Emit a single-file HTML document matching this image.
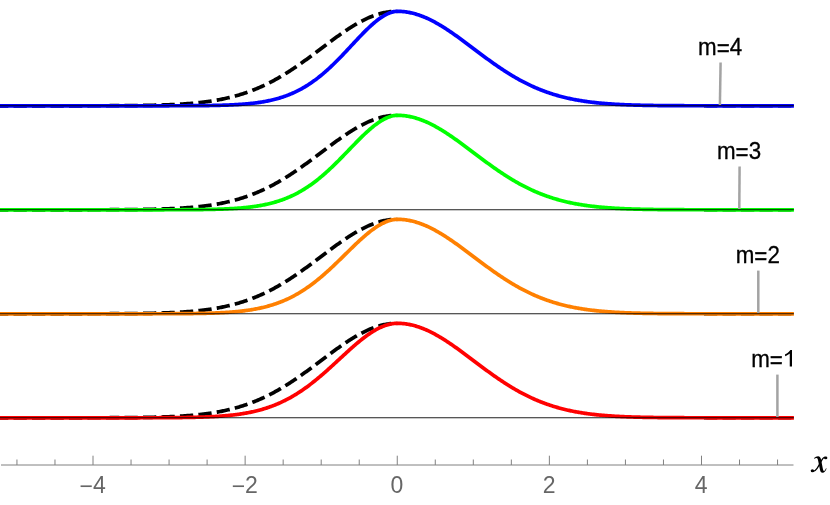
<!DOCTYPE html>
<html><head><meta charset="utf-8"><title>plot</title>
<style>html,body{margin:0;padding:0;background:#fff;}body{width:830px;height:505px;position:relative;overflow:hidden;font-family:"Liberation Sans",sans-serif;}</style>
</head><body>
<svg width="830" height="505" viewBox="0 0 830 505" style="position:absolute;left:0;top:0;will-change:transform;opacity:0.999">
<rect width="830" height="505" fill="#fff"/>
<path d="M0.00 105.80 L1.00 105.80 L2.00 105.80 L3.00 105.80 L4.00 105.80 L5.00 105.80 L6.00 105.80 L7.00 105.80 L8.01 105.80 L9.01 105.80 L10.01 105.80 L11.01 105.80 L12.01 105.80 L13.01 105.80 L14.01 105.80 L15.01 105.80 L16.01 105.80 L17.01 105.80 L18.01 105.80 L19.01 105.80 L20.01 105.80 L21.01 105.80 L22.01 105.80 L23.01 105.80 L24.02 105.80 L25.02 105.80 L26.02 105.80 L27.02 105.80 L28.02 105.80 L29.02 105.80 L30.02 105.80 L31.02 105.80 L32.02 105.80 L33.02 105.80 L34.02 105.80 L35.02 105.80 L36.02 105.80 L37.02 105.80 L38.02 105.80 L39.02 105.80 L40.03 105.80 L41.03 105.80 L42.03 105.80 L43.03 105.80 L44.03 105.80 L45.03 105.80 L46.03 105.80 L47.03 105.80 L48.03 105.80 L49.03 105.80 L50.03 105.80 L51.03 105.80 L52.03 105.80 L53.03 105.80 L54.03 105.80 L55.03 105.80 L56.04 105.80 L57.04 105.80 L58.04 105.80 L59.04 105.80 L60.04 105.79 L61.04 105.79 L62.04 105.79 L63.04 105.79 L64.04 105.79 L65.04 105.79 L66.04 105.79 L67.04 105.79 L68.04 105.79 L69.04 105.79 L70.04 105.79 L71.04 105.79 L72.05 105.79 L73.05 105.79 L74.05 105.79 L75.05 105.79 L76.05 105.79 L77.05 105.79 L78.05 105.79 L79.05 105.79 L80.05 105.78 L81.05 105.78 L82.05 105.78 L83.05 105.78 L84.05 105.78 L85.05 105.78 L86.05 105.78 L87.05 105.78 L88.06 105.78 L89.06 105.77 L90.06 105.77 L91.06 105.77 L92.06 105.77 L93.06 105.77 L94.06 105.77 L95.06 105.76 L96.06 105.76 L97.06 105.76 L98.06 105.76 L99.06 105.76 L100.06 105.75 L101.06 105.75 L102.06 105.75 L103.06 105.75 L104.07 105.74 L105.07 105.74 L106.07 105.74 L107.07 105.73 L108.07 105.73 L109.07 105.73 L110.07 105.72 L111.07 105.72 L112.07 105.72 L113.07 105.71 L114.07 105.71 L115.07 105.70 L116.07 105.70 L117.07 105.69 L118.07 105.69 L119.07 105.68 L120.08 105.68 L121.08 105.67 L122.08 105.66 L123.08 105.66 L124.08 105.65 L125.08 105.64 L126.08 105.64 L127.08 105.63 L128.08 105.62 L129.08 105.61 L130.08 105.60 L131.08 105.59 L132.08 105.58 L133.08 105.57 L134.08 105.56 L135.09 105.55 L136.09 105.54 L137.09 105.53 L138.09 105.52 L139.09 105.50 L140.09 105.49 L141.09 105.47 L142.09 105.46 L143.09 105.44 L144.09 105.43 L145.09 105.41 L146.09 105.39 L147.09 105.38 L148.09 105.36 L149.09 105.34 L150.09 105.32 L151.10 105.30 L152.10 105.28 L153.10 105.25 L154.10 105.23 L155.10 105.21 L156.10 105.18 L157.10 105.15 L158.10 105.13 L159.10 105.10 L160.10 105.07 L161.10 105.04 L162.10 105.01 L163.10 104.97 L164.10 104.94 L165.10 104.90 L166.10 104.87 L167.11 104.83 L168.11 104.79 L169.11 104.75 L170.11 104.71 L171.11 104.66 L172.11 104.62 L173.11 104.57 L174.11 104.52 L175.11 104.47 L176.11 104.42 L177.11 104.37 L178.11 104.31 L179.11 104.25 L180.11 104.19 L181.11 104.13 L182.11 104.07 L183.12 104.00 L184.12 103.94 L185.12 103.87 L186.12 103.79 L187.12 103.72 L188.12 103.64 L189.12 103.56 L190.12 103.48 L191.12 103.40 L192.12 103.31 L193.12 103.22 L194.12 103.13 L195.12 103.03 L196.12 102.94 L197.12 102.83 L198.12 102.73 L199.13 102.62 L200.13 102.51 L201.13 102.40 L202.13 102.28 L203.13 102.16 L204.13 102.04 L205.13 101.91 L206.13 101.78 L207.13 101.64 L208.13 101.51 L209.13 101.36 L210.13 101.22 L211.13 101.07 L212.13 100.91 L213.13 100.75 L214.13 100.59 L215.14 100.42 L216.14 100.25 L217.14 100.08 L218.14 99.89 L219.14 99.71 L220.14 99.52 L221.14 99.32 L222.14 99.12 L223.14 98.92 L224.14 98.71 L225.14 98.50 L226.14 98.28 L227.14 98.05 L228.14 97.82 L229.14 97.58 L230.14 97.34 L231.15 97.09 L232.15 96.84 L233.15 96.58 L234.15 96.32 L235.15 96.05 L236.15 95.77 L237.15 95.49 L238.15 95.20 L239.15 94.91 L240.15 94.60 L241.15 94.30 L242.15 93.98 L243.15 93.66 L244.15 93.34 L245.15 93.00 L246.15 92.66 L247.16 92.32 L248.16 91.96 L249.16 91.60 L250.16 91.24 L251.16 90.86 L252.16 90.48 L253.16 90.09 L254.16 89.70 L255.16 89.30 L256.16 88.89 L257.16 88.47 L258.16 88.05 L259.16 87.62 L260.16 87.18 L261.16 86.73 L262.16 86.28 L263.17 85.82 L264.17 85.35 L265.17 84.88 L266.17 84.40 L267.17 83.91 L268.17 83.41 L269.17 82.91 L270.17 82.40 L271.17 81.88 L272.17 81.35 L273.17 80.82 L274.17 80.28 L275.17 79.74 L276.17 79.18 L277.17 78.62 L278.18 78.05 L279.18 77.48 L280.18 76.90 L281.18 76.31 L282.18 75.71 L283.18 75.11 L284.18 74.50 L285.18 73.89 L286.18 73.26 L287.18 72.63 L288.18 72.00 L289.18 71.36 L290.18 70.71 L291.18 70.06 L292.18 69.40 L293.18 68.74 L294.19 68.07 L295.19 67.39 L296.19 66.71 L297.19 66.03 L298.19 65.33 L299.19 64.64 L300.19 63.94 L301.19 63.23 L302.19 62.52 L303.19 61.81 L304.19 61.09 L305.19 60.37 L306.19 59.65 L307.19 58.92 L308.19 58.19 L309.19 57.45 L310.20 56.71 L311.20 55.97 L312.20 55.23 L313.20 54.48 L314.20 53.74 L315.20 52.99 L316.20 52.24 L317.20 51.49 L318.20 50.73 L319.20 49.98 L320.20 49.23 L321.20 48.47 L322.20 47.72 L323.20 46.97 L324.20 46.21 L325.20 45.46 L326.21 44.71 L327.21 43.96 L328.21 43.21 L329.21 42.46 L330.21 41.72 L331.21 40.98 L332.21 40.24 L333.21 39.50 L334.21 38.77 L335.21 38.04 L336.21 37.32 L337.21 36.60 L338.21 35.88 L339.21 35.17 L340.21 34.46 L341.21 33.76 L342.22 33.06 L343.22 32.38 L344.22 31.69 L345.22 31.02 L346.22 30.35 L347.22 29.68 L348.22 29.03 L349.22 28.38 L350.22 27.74 L351.22 27.11 L352.22 26.49 L353.22 25.88 L354.22 25.27 L355.22 24.68 L356.22 24.09 L357.22 23.52 L358.23 22.95 L359.23 22.40 L360.23 21.86 L361.23 21.33 L362.23 20.81 L363.23 20.30 L364.23 19.80 L365.23 19.31 L366.23 18.84 L367.23 18.38 L368.23 17.93 L369.23 17.50 L370.23 17.08 L371.23 16.67 L372.23 16.28 L373.23 15.89 L374.24 15.53 L375.24 15.18 L376.24 14.84 L377.24 14.52 L378.24 14.21 L379.24 13.91 L380.24 13.63 L381.24 13.37 L382.24 13.12 L383.24 12.89 L384.24 12.67 L385.24 12.47 L386.24 12.28 L387.24 12.11 L388.24 11.96 L389.24 11.82 L390.25 11.70 L391.25 11.59 L392.25 11.50 L393.25 11.43 L394.25 11.37 L395.25 11.33 L396.25 11.31 L397.25 11.30" fill="none" stroke="#000" stroke-width="3.70" stroke-dasharray="13.3 5.2" stroke-dashoffset="5"/>
<path d="M700.00 105.77 L701.00 105.77 L702.00 105.77 L703.00 105.77 L704.00 105.77 L704.99 105.77 L705.99 105.78 L706.99 105.78 L707.99 105.78 L708.99 105.78 L709.99 105.78 L710.99 105.78 L711.99 105.78 L712.99 105.78 L713.99 105.78 L714.98 105.78 L715.98 105.79 L716.98 105.79 L717.98 105.79 L718.98 105.79 L719.98 105.79 L720.98 105.79 L721.98 105.79 L722.98 105.79 L723.97 105.79 L724.97 105.79 L725.97 105.79 L726.97 105.79 L727.97 105.79 L728.97 105.79 L729.97 105.79 L730.97 105.79 L731.97 105.79 L732.96 105.79 L733.96 105.79 L734.96 105.80 L735.96 105.80 L736.96 105.80 L737.96 105.80 L738.96 105.80 L739.96 105.80 L740.96 105.80 L741.96 105.80 L742.95 105.80 L743.95 105.80 L744.95 105.80 L745.95 105.80 L746.95 105.80 L747.95 105.80 L748.95 105.80 L749.95 105.80 L750.95 105.80 L751.94 105.80 L752.94 105.80 L753.94 105.80 L754.94 105.80 L755.94 105.80 L756.94 105.80 L757.94 105.80 L758.94 105.80 L759.94 105.80 L760.94 105.80 L761.93 105.80 L762.93 105.80 L763.93 105.80 L764.93 105.80 L765.93 105.80 L766.93 105.80 L767.93 105.80 L768.93 105.80 L769.93 105.80 L770.92 105.80 L771.92 105.80 L772.92 105.80 L773.92 105.80 L774.92 105.80 L775.92 105.80 L776.92 105.80 L777.92 105.80 L778.92 105.80 L779.91 105.80 L780.91 105.80 L781.91 105.80 L782.91 105.80 L783.91 105.80 L784.91 105.80 L785.91 105.80 L786.91 105.80 L787.91 105.80 L788.91 105.80 L789.90 105.80 L790.90 105.80 L791.90 105.80 L792.90 105.80 L793.90 105.80" fill="none" stroke="#000" stroke-width="3.50" stroke-dasharray="13.3 5.2" stroke-dashoffset="14.5"/>
<path d="M0.00 105.80 L1.00 105.80 L2.00 105.80 L3.00 105.80 L4.00 105.80 L5.00 105.80 L6.00 105.80 L7.00 105.80 L8.00 105.80 L9.00 105.80 L10.00 105.80 L11.00 105.80 L12.00 105.80 L13.00 105.80 L14.00 105.80 L15.00 105.80 L16.00 105.80 L17.00 105.80 L18.00 105.80 L19.00 105.80 L20.00 105.80 L21.00 105.80 L22.00 105.80 L23.00 105.80 L24.00 105.80 L25.00 105.80 L26.00 105.80 L27.00 105.80 L28.00 105.80 L29.00 105.80 L30.00 105.80 L31.00 105.80 L32.00 105.80 L33.00 105.80 L34.00 105.80 L35.00 105.80 L36.00 105.80 L37.00 105.80 L38.00 105.80 L39.00 105.80 L39.99 105.80 L40.99 105.80 L41.99 105.80 L42.99 105.80 L43.99 105.80 L44.99 105.80 L45.99 105.80 L46.99 105.80 L47.99 105.80 L48.99 105.80 L49.99 105.80 L50.99 105.80 L51.99 105.80 L52.99 105.80 L53.99 105.80 L54.99 105.80 L55.99 105.80 L56.99 105.80 L57.99 105.80 L58.99 105.80 L59.99 105.80 L60.99 105.80 L61.99 105.80 L62.99 105.80 L63.99 105.80 L64.99 105.80 L65.99 105.80 L66.99 105.80 L67.99 105.80 L68.99 105.80 L69.99 105.80 L70.99 105.80 L71.99 105.80 L72.99 105.80 L73.99 105.80 L74.99 105.80 L75.99 105.80 L76.99 105.80 L77.99 105.80 L78.99 105.80 L79.99 105.80 L80.99 105.80 L81.99 105.80 L82.99 105.80 L83.99 105.80 L84.99 105.80 L85.99 105.80 L86.99 105.80 L87.99 105.80 L88.99 105.80 L89.99 105.80 L90.99 105.80 L91.99 105.80 L92.99 105.80 L93.99 105.80 L94.99 105.80 L95.99 105.80 L96.99 105.80 L97.99 105.80 L98.99 105.80 L99.99 105.80 L100.99 105.80 L101.99 105.80 L102.99 105.80 L103.99 105.80 L104.99 105.80 L105.99 105.80 L106.99 105.80 L107.99 105.80 L108.99 105.80 L109.99 105.80 L110.99 105.80 L111.99 105.80 L112.99 105.80 L113.99 105.80 L114.99 105.80 L115.99 105.80 L116.99 105.80 L117.99 105.80 L118.99 105.80 L119.98 105.80 L120.98 105.80 L121.98 105.80 L122.98 105.80 L123.98 105.80 L124.98 105.80 L125.98 105.80 L126.98 105.80 L127.98 105.80 L128.98 105.80 L129.98 105.80 L130.98 105.80 L131.98 105.80 L132.98 105.80 L133.98 105.80 L134.98 105.80 L135.98 105.80 L136.98 105.80 L137.98 105.80 L138.98 105.80 L139.98 105.80 L140.98 105.80 L141.98 105.80 L142.98 105.80 L143.98 105.80 L144.98 105.80 L145.98 105.80 L146.98 105.79 L147.98 105.79 L148.98 105.79 L149.98 105.79 L150.98 105.79 L151.98 105.79 L152.98 105.79 L153.98 105.79 L154.98 105.79 L155.98 105.79 L156.98 105.79 L157.98 105.79 L158.98 105.79 L159.98 105.79 L160.98 105.79 L161.98 105.79 L162.98 105.78 L163.98 105.78 L164.98 105.78 L165.98 105.78 L166.98 105.78 L167.98 105.78 L168.98 105.78 L169.98 105.77 L170.98 105.77 L171.98 105.77 L172.98 105.77 L173.98 105.77 L174.98 105.76 L175.98 105.76 L176.98 105.76 L177.98 105.76 L178.98 105.75 L179.98 105.75 L180.98 105.75 L181.98 105.75 L182.98 105.74 L183.98 105.74 L184.98 105.73 L185.98 105.73 L186.98 105.73 L187.98 105.72 L188.98 105.72 L189.98 105.71 L190.98 105.70 L191.98 105.70 L192.98 105.69 L193.98 105.69 L194.98 105.68 L195.98 105.67 L196.98 105.66 L197.98 105.65 L198.97 105.65 L199.97 105.64 L200.97 105.63 L201.97 105.62 L202.97 105.61 L203.97 105.59 L204.97 105.58 L205.97 105.57 L206.97 105.56 L207.97 105.54 L208.97 105.53 L209.97 105.51 L210.97 105.49 L211.97 105.48 L212.97 105.46 L213.97 105.44 L214.97 105.42 L215.97 105.40 L216.97 105.37 L217.97 105.35 L218.97 105.33 L219.97 105.30 L220.97 105.27 L221.97 105.24 L222.97 105.21 L223.97 105.18 L224.97 105.15 L225.97 105.11 L226.97 105.08 L227.97 105.04 L228.97 105.00 L229.97 104.95 L230.97 104.91 L231.97 104.86 L232.97 104.82 L233.97 104.77 L234.97 104.71 L235.97 104.66 L236.97 104.60 L237.97 104.54 L238.97 104.47 L239.97 104.41 L240.97 104.34 L241.97 104.27 L242.97 104.19 L243.97 104.11 L244.97 104.03 L245.97 103.95 L246.97 103.86 L247.97 103.76 L248.97 103.67 L249.97 103.57 L250.97 103.46 L251.97 103.35 L252.97 103.24 L253.97 103.12 L254.97 103.00 L255.97 102.87 L256.97 102.73 L257.97 102.60 L258.97 102.45 L259.97 102.30 L260.97 102.15 L261.97 101.99 L262.97 101.82 L263.97 101.65 L264.97 101.47 L265.97 101.28 L266.97 101.09 L267.97 100.89 L268.97 100.68 L269.97 100.46 L270.97 100.24 L271.97 100.01 L272.97 99.77 L273.97 99.53 L274.97 99.27 L275.97 99.01 L276.97 98.74 L277.96 98.46 L278.96 98.17 L279.96 97.87 L280.96 97.56 L281.96 97.24 L282.96 96.91 L283.96 96.58 L284.96 96.23 L285.96 95.87 L286.96 95.50 L287.96 95.12 L288.96 94.73 L289.96 94.32 L290.96 93.91 L291.96 93.48 L292.96 93.04 L293.96 92.59 L294.96 92.13 L295.96 91.66 L296.96 91.17 L297.96 90.67 L298.96 90.16 L299.96 89.63 L300.96 89.09 L301.96 88.54 L302.96 87.98 L303.96 87.40 L304.96 86.81 L305.96 86.20 L306.96 85.58 L307.96 84.95 L308.96 84.30 L309.96 83.64 L310.96 82.97 L311.96 82.28 L312.96 81.58 L313.96 80.86 L314.96 80.13 L315.96 79.39 L316.96 78.63 L317.96 77.86 L318.96 77.07 L319.96 76.27 L320.96 75.46 L321.96 74.64 L322.96 73.80 L323.96 72.95 L324.96 72.08 L325.96 71.20 L326.96 70.31 L327.96 69.41 L328.96 68.50 L329.96 67.57 L330.96 66.63 L331.96 65.68 L332.96 64.72 L333.96 63.75 L334.96 62.77 L335.96 61.78 L336.96 60.78 L337.96 59.78 L338.96 58.76 L339.96 57.74 L340.96 56.70 L341.96 55.66 L342.96 54.62 L343.96 53.57 L344.96 52.51 L345.96 51.45 L346.96 50.39 L347.96 49.32 L348.96 48.25 L349.96 47.18 L350.96 46.10 L351.96 45.03 L352.96 43.96 L353.96 42.88 L354.96 41.81 L355.96 40.75 L356.96 39.68 L357.95 38.62 L358.95 37.57 L359.95 36.52 L360.95 35.48 L361.95 34.44 L362.95 33.42 L363.95 32.40 L364.95 31.40 L365.95 30.41 L366.95 29.43 L367.95 28.46 L368.95 27.51 L369.95 26.57 L370.95 25.65 L371.95 24.75 L372.95 23.87 L373.95 23.01 L374.95 22.17 L375.95 21.35 L376.95 20.55 L377.95 19.78 L378.95 19.03 L379.95 18.31 L380.95 17.62 L381.95 16.95 L382.95 16.32 L383.95 15.72 L384.95 15.14 L385.95 14.61 L386.95 14.10 L387.95 13.64 L388.95 13.20 L389.95 12.81 L390.95 12.46 L391.95 12.15 L392.95 11.88 L393.95 11.66 L394.95 11.49 L395.95 11.37 L396.95 11.30 L397.95 11.30 L398.95 11.32 L399.95 11.36 L400.95 11.41 L401.95 11.48 L402.95 11.56 L403.95 11.67 L404.95 11.78 L405.95 11.92 L406.95 12.07 L407.95 12.23 L408.95 12.41 L409.95 12.61 L410.95 12.82 L411.95 13.05 L412.95 13.29 L413.95 13.55 L414.95 13.82 L415.95 14.11 L416.95 14.42 L417.95 14.73 L418.95 15.07 L419.95 15.42 L420.95 15.78 L421.95 16.15 L422.95 16.54 L423.95 16.95 L424.95 17.36 L425.95 17.79 L426.95 18.23 L427.95 18.69 L428.95 19.16 L429.95 19.64 L430.95 20.13 L431.95 20.64 L432.95 21.15 L433.95 21.68 L434.95 22.22 L435.95 22.77 L436.94 23.33 L437.94 23.90 L438.94 24.48 L439.94 25.07 L440.94 25.67 L441.94 26.28 L442.94 26.90 L443.94 27.53 L444.94 28.17 L445.94 28.81 L446.94 29.46 L447.94 30.12 L448.94 30.79 L449.94 31.46 L450.94 32.14 L451.94 32.83 L452.94 33.52 L453.94 34.22 L454.94 34.92 L455.94 35.63 L456.94 36.35 L457.94 37.07 L458.94 37.79 L459.94 38.52 L460.94 39.25 L461.94 39.98 L462.94 40.72 L463.94 41.46 L464.94 42.20 L465.94 42.95 L466.94 43.69 L467.94 44.44 L468.94 45.19 L469.94 45.95 L470.94 46.70 L471.94 47.45 L472.94 48.20 L473.94 48.96 L474.94 49.71 L475.94 50.46 L476.94 51.22 L477.94 51.97 L478.94 52.72 L479.94 53.47 L480.94 54.21 L481.94 54.96 L482.94 55.70 L483.94 56.44 L484.94 57.18 L485.94 57.92 L486.94 58.65 L487.94 59.38 L488.94 60.10 L489.94 60.83 L490.94 61.54 L491.94 62.26 L492.94 62.97 L493.94 63.68 L494.94 64.38 L495.94 65.07 L496.94 65.77 L497.94 66.45 L498.94 67.14 L499.94 67.81 L500.94 68.48 L501.94 69.15 L502.94 69.81 L503.94 70.47 L504.94 71.11 L505.94 71.76 L506.94 72.39 L507.94 73.02 L508.94 73.65 L509.94 74.26 L510.94 74.88 L511.94 75.48 L512.94 76.08 L513.94 76.67 L514.94 77.25 L515.94 77.83 L516.93 78.40 L517.93 78.96 L518.93 79.52 L519.93 80.07 L520.93 80.61 L521.93 81.15 L522.93 81.67 L523.93 82.19 L524.93 82.71 L525.93 83.21 L526.93 83.71 L527.93 84.20 L528.93 84.69 L529.93 85.16 L530.93 85.63 L531.93 86.10 L532.93 86.55 L533.93 87.00 L534.93 87.44 L535.93 87.87 L536.93 88.30 L537.93 88.72 L538.93 89.13 L539.93 89.53 L540.93 89.93 L541.93 90.32 L542.93 90.71 L543.93 91.08 L544.93 91.45 L545.93 91.81 L546.93 92.17 L547.93 92.52 L548.93 92.86 L549.93 93.20 L550.93 93.53 L551.93 93.85 L552.93 94.17 L553.93 94.48 L554.93 94.78 L555.93 95.08 L556.93 95.37 L557.93 95.65 L558.93 95.93 L559.93 96.20 L560.93 96.47 L561.93 96.73 L562.93 96.99 L563.93 97.24 L564.93 97.48 L565.93 97.72 L566.93 97.95 L567.93 98.18 L568.93 98.40 L569.93 98.62 L570.93 98.83 L571.93 99.04 L572.93 99.24 L573.93 99.44 L574.93 99.63 L575.93 99.81 L576.93 100.00 L577.93 100.18 L578.93 100.35 L579.93 100.52 L580.93 100.68 L581.93 100.84 L582.93 101.00 L583.93 101.15 L584.93 101.30 L585.93 101.44 L586.93 101.58 L587.93 101.72 L588.93 101.85 L589.93 101.98 L590.93 102.11 L591.93 102.23 L592.93 102.35 L593.93 102.46 L594.93 102.57 L595.92 102.68 L596.92 102.79 L597.92 102.89 L598.92 102.99 L599.92 103.09 L600.92 103.18 L601.92 103.27 L602.92 103.36 L603.92 103.44 L604.92 103.53 L605.92 103.61 L606.92 103.69 L607.92 103.76 L608.92 103.83 L609.92 103.90 L610.92 103.97 L611.92 104.04 L612.92 104.10 L613.92 104.17 L614.92 104.23 L615.92 104.28 L616.92 104.34 L617.92 104.40 L618.92 104.45 L619.92 104.50 L620.92 104.55 L621.92 104.60 L622.92 104.64 L623.92 104.69 L624.92 104.73 L625.92 104.77 L626.92 104.81 L627.92 104.85 L628.92 104.89 L629.92 104.92 L630.92 104.96 L631.92 104.99 L632.92 105.02 L633.92 105.05 L634.92 105.08 L635.92 105.11 L636.92 105.14 L637.92 105.17 L638.92 105.19 L639.92 105.22 L640.92 105.24 L641.92 105.26 L642.92 105.29 L643.92 105.31 L644.92 105.33 L645.92 105.35 L646.92 105.37 L647.92 105.39 L648.92 105.40 L649.92 105.42 L650.92 105.44 L651.92 105.45 L652.92 105.47 L653.92 105.48 L654.92 105.50 L655.92 105.51 L656.92 105.52 L657.92 105.53 L658.92 105.55 L659.92 105.56 L660.92 105.57 L661.92 105.58 L662.92 105.59 L663.92 105.60 L664.92 105.61 L665.92 105.62 L666.92 105.62 L667.92 105.63 L668.92 105.64 L669.92 105.65 L670.92 105.65 L671.92 105.66 L672.92 105.67 L673.92 105.67 L674.91 105.68 L675.91 105.69 L676.91 105.69 L677.91 105.70 L678.91 105.70 L679.91 105.71 L680.91 105.71 L681.91 105.71 L682.91 105.72 L683.91 105.72 L684.91 105.73 L685.91 105.73 L686.91 105.73 L687.91 105.74 L688.91 105.74 L689.91 105.74 L690.91 105.75 L691.91 105.75 L692.91 105.75 L693.91 105.75 L694.91 105.76 L695.91 105.76 L696.91 105.76 L697.91 105.76 L698.91 105.76 L699.91 105.77 L700.91 105.77 L701.91 105.77 L702.91 105.77 L703.91 105.77 L704.91 105.77 L705.91 105.77 L706.91 105.78 L707.91 105.78 L708.91 105.78 L709.91 105.78 L710.91 105.78 L711.91 105.78 L712.91 105.78 L713.91 105.78 L714.91 105.78 L715.91 105.79 L716.91 105.79 L717.91 105.79 L718.91 105.79 L719.91 105.79 L720.91 105.79 L721.91 105.79 L722.91 105.79 L723.91 105.79 L724.91 105.79 L725.91 105.79 L726.91 105.79 L727.91 105.79 L728.91 105.79 L729.91 105.79 L730.91 105.79 L731.91 105.79 L732.91 105.79 L733.91 105.79 L734.91 105.80 L735.91 105.80 L736.91 105.80 L737.91 105.80 L738.91 105.80 L739.91 105.80 L740.91 105.80 L741.91 105.80 L742.91 105.80 L743.91 105.80 L744.91 105.80 L745.91 105.80 L746.91 105.80 L747.91 105.80 L748.91 105.80 L749.91 105.80 L750.91 105.80 L751.91 105.80 L752.91 105.80 L753.91 105.80 L754.90 105.80 L755.90 105.80 L756.90 105.80 L757.90 105.80 L758.90 105.80 L759.90 105.80 L760.90 105.80 L761.90 105.80 L762.90 105.80 L763.90 105.80 L764.90 105.80 L765.90 105.80 L766.90 105.80 L767.90 105.80 L768.90 105.80 L769.90 105.80 L770.90 105.80 L771.90 105.80 L772.90 105.80 L773.90 105.80 L774.90 105.80 L775.90 105.80 L776.90 105.80 L777.90 105.80 L778.90 105.80 L779.90 105.80 L780.90 105.80 L781.90 105.80 L782.90 105.80 L783.90 105.80 L784.90 105.80 L785.90 105.80 L786.90 105.80 L787.90 105.80 L788.90 105.80 L789.90 105.80 L790.90 105.80 L791.90 105.80 L792.90 105.80 L793.90 105.80" fill="none" stroke="#0000ff" stroke-width="3.70" stroke-linejoin="round"/>
<path d="M0.00 209.80 L1.00 209.80 L2.00 209.80 L3.00 209.80 L4.00 209.80 L5.00 209.80 L6.00 209.80 L7.00 209.80 L8.01 209.80 L9.01 209.80 L10.01 209.80 L11.01 209.80 L12.01 209.80 L13.01 209.80 L14.01 209.80 L15.01 209.80 L16.01 209.80 L17.01 209.80 L18.01 209.80 L19.01 209.80 L20.01 209.80 L21.01 209.80 L22.01 209.80 L23.01 209.80 L24.02 209.80 L25.02 209.80 L26.02 209.80 L27.02 209.80 L28.02 209.80 L29.02 209.80 L30.02 209.80 L31.02 209.80 L32.02 209.80 L33.02 209.80 L34.02 209.80 L35.02 209.80 L36.02 209.80 L37.02 209.80 L38.02 209.80 L39.02 209.80 L40.03 209.80 L41.03 209.80 L42.03 209.80 L43.03 209.80 L44.03 209.80 L45.03 209.80 L46.03 209.80 L47.03 209.80 L48.03 209.80 L49.03 209.80 L50.03 209.80 L51.03 209.80 L52.03 209.80 L53.03 209.80 L54.03 209.80 L55.03 209.80 L56.04 209.80 L57.04 209.80 L58.04 209.80 L59.04 209.80 L60.04 209.79 L61.04 209.79 L62.04 209.79 L63.04 209.79 L64.04 209.79 L65.04 209.79 L66.04 209.79 L67.04 209.79 L68.04 209.79 L69.04 209.79 L70.04 209.79 L71.04 209.79 L72.05 209.79 L73.05 209.79 L74.05 209.79 L75.05 209.79 L76.05 209.79 L77.05 209.79 L78.05 209.79 L79.05 209.79 L80.05 209.78 L81.05 209.78 L82.05 209.78 L83.05 209.78 L84.05 209.78 L85.05 209.78 L86.05 209.78 L87.05 209.78 L88.06 209.78 L89.06 209.77 L90.06 209.77 L91.06 209.77 L92.06 209.77 L93.06 209.77 L94.06 209.77 L95.06 209.76 L96.06 209.76 L97.06 209.76 L98.06 209.76 L99.06 209.76 L100.06 209.75 L101.06 209.75 L102.06 209.75 L103.06 209.75 L104.07 209.74 L105.07 209.74 L106.07 209.74 L107.07 209.73 L108.07 209.73 L109.07 209.73 L110.07 209.72 L111.07 209.72 L112.07 209.72 L113.07 209.71 L114.07 209.71 L115.07 209.70 L116.07 209.70 L117.07 209.69 L118.07 209.69 L119.07 209.68 L120.08 209.68 L121.08 209.67 L122.08 209.66 L123.08 209.66 L124.08 209.65 L125.08 209.64 L126.08 209.64 L127.08 209.63 L128.08 209.62 L129.08 209.61 L130.08 209.60 L131.08 209.59 L132.08 209.58 L133.08 209.57 L134.08 209.56 L135.09 209.55 L136.09 209.54 L137.09 209.53 L138.09 209.52 L139.09 209.50 L140.09 209.49 L141.09 209.47 L142.09 209.46 L143.09 209.44 L144.09 209.43 L145.09 209.41 L146.09 209.39 L147.09 209.38 L148.09 209.36 L149.09 209.34 L150.09 209.32 L151.10 209.30 L152.10 209.28 L153.10 209.25 L154.10 209.23 L155.10 209.21 L156.10 209.18 L157.10 209.15 L158.10 209.13 L159.10 209.10 L160.10 209.07 L161.10 209.04 L162.10 209.01 L163.10 208.97 L164.10 208.94 L165.10 208.90 L166.10 208.87 L167.11 208.83 L168.11 208.79 L169.11 208.75 L170.11 208.71 L171.11 208.66 L172.11 208.62 L173.11 208.57 L174.11 208.52 L175.11 208.47 L176.11 208.42 L177.11 208.37 L178.11 208.31 L179.11 208.25 L180.11 208.19 L181.11 208.13 L182.11 208.07 L183.12 208.00 L184.12 207.94 L185.12 207.87 L186.12 207.79 L187.12 207.72 L188.12 207.64 L189.12 207.56 L190.12 207.48 L191.12 207.40 L192.12 207.31 L193.12 207.22 L194.12 207.13 L195.12 207.03 L196.12 206.94 L197.12 206.83 L198.12 206.73 L199.13 206.62 L200.13 206.51 L201.13 206.40 L202.13 206.28 L203.13 206.16 L204.13 206.04 L205.13 205.91 L206.13 205.78 L207.13 205.64 L208.13 205.51 L209.13 205.36 L210.13 205.22 L211.13 205.07 L212.13 204.91 L213.13 204.75 L214.13 204.59 L215.14 204.42 L216.14 204.25 L217.14 204.08 L218.14 203.89 L219.14 203.71 L220.14 203.52 L221.14 203.32 L222.14 203.12 L223.14 202.92 L224.14 202.71 L225.14 202.50 L226.14 202.28 L227.14 202.05 L228.14 201.82 L229.14 201.58 L230.14 201.34 L231.15 201.09 L232.15 200.84 L233.15 200.58 L234.15 200.32 L235.15 200.05 L236.15 199.77 L237.15 199.49 L238.15 199.20 L239.15 198.91 L240.15 198.60 L241.15 198.30 L242.15 197.98 L243.15 197.66 L244.15 197.34 L245.15 197.00 L246.15 196.66 L247.16 196.32 L248.16 195.96 L249.16 195.60 L250.16 195.24 L251.16 194.86 L252.16 194.48 L253.16 194.09 L254.16 193.70 L255.16 193.30 L256.16 192.89 L257.16 192.47 L258.16 192.05 L259.16 191.62 L260.16 191.18 L261.16 190.73 L262.16 190.28 L263.17 189.82 L264.17 189.35 L265.17 188.88 L266.17 188.40 L267.17 187.91 L268.17 187.41 L269.17 186.91 L270.17 186.40 L271.17 185.88 L272.17 185.35 L273.17 184.82 L274.17 184.28 L275.17 183.74 L276.17 183.18 L277.17 182.62 L278.18 182.05 L279.18 181.48 L280.18 180.90 L281.18 180.31 L282.18 179.71 L283.18 179.11 L284.18 178.50 L285.18 177.89 L286.18 177.26 L287.18 176.63 L288.18 176.00 L289.18 175.36 L290.18 174.71 L291.18 174.06 L292.18 173.40 L293.18 172.74 L294.19 172.07 L295.19 171.39 L296.19 170.71 L297.19 170.03 L298.19 169.33 L299.19 168.64 L300.19 167.94 L301.19 167.23 L302.19 166.52 L303.19 165.81 L304.19 165.09 L305.19 164.37 L306.19 163.65 L307.19 162.92 L308.19 162.19 L309.19 161.45 L310.20 160.71 L311.20 159.97 L312.20 159.23 L313.20 158.48 L314.20 157.74 L315.20 156.99 L316.20 156.24 L317.20 155.49 L318.20 154.73 L319.20 153.98 L320.20 153.23 L321.20 152.47 L322.20 151.72 L323.20 150.97 L324.20 150.21 L325.20 149.46 L326.21 148.71 L327.21 147.96 L328.21 147.21 L329.21 146.46 L330.21 145.72 L331.21 144.98 L332.21 144.24 L333.21 143.50 L334.21 142.77 L335.21 142.04 L336.21 141.32 L337.21 140.60 L338.21 139.88 L339.21 139.17 L340.21 138.46 L341.21 137.76 L342.22 137.06 L343.22 136.38 L344.22 135.69 L345.22 135.02 L346.22 134.35 L347.22 133.68 L348.22 133.03 L349.22 132.38 L350.22 131.74 L351.22 131.11 L352.22 130.49 L353.22 129.88 L354.22 129.27 L355.22 128.68 L356.22 128.09 L357.22 127.52 L358.23 126.95 L359.23 126.40 L360.23 125.86 L361.23 125.33 L362.23 124.81 L363.23 124.30 L364.23 123.80 L365.23 123.31 L366.23 122.84 L367.23 122.38 L368.23 121.93 L369.23 121.50 L370.23 121.08 L371.23 120.67 L372.23 120.28 L373.23 119.89 L374.24 119.53 L375.24 119.18 L376.24 118.84 L377.24 118.52 L378.24 118.21 L379.24 117.91 L380.24 117.63 L381.24 117.37 L382.24 117.12 L383.24 116.89 L384.24 116.67 L385.24 116.47 L386.24 116.28 L387.24 116.11 L388.24 115.96 L389.24 115.82 L390.25 115.70 L391.25 115.59 L392.25 115.50 L393.25 115.43 L394.25 115.37 L395.25 115.33 L396.25 115.31 L397.25 115.30" fill="none" stroke="#000" stroke-width="3.70" stroke-dasharray="13.3 5.2" stroke-dashoffset="5"/>
<path d="M700.00 209.77 L701.00 209.77 L702.00 209.77 L703.00 209.77 L704.00 209.77 L704.99 209.77 L705.99 209.78 L706.99 209.78 L707.99 209.78 L708.99 209.78 L709.99 209.78 L710.99 209.78 L711.99 209.78 L712.99 209.78 L713.99 209.78 L714.98 209.78 L715.98 209.79 L716.98 209.79 L717.98 209.79 L718.98 209.79 L719.98 209.79 L720.98 209.79 L721.98 209.79 L722.98 209.79 L723.97 209.79 L724.97 209.79 L725.97 209.79 L726.97 209.79 L727.97 209.79 L728.97 209.79 L729.97 209.79 L730.97 209.79 L731.97 209.79 L732.96 209.79 L733.96 209.79 L734.96 209.80 L735.96 209.80 L736.96 209.80 L737.96 209.80 L738.96 209.80 L739.96 209.80 L740.96 209.80 L741.96 209.80 L742.95 209.80 L743.95 209.80 L744.95 209.80 L745.95 209.80 L746.95 209.80 L747.95 209.80 L748.95 209.80 L749.95 209.80 L750.95 209.80 L751.94 209.80 L752.94 209.80 L753.94 209.80 L754.94 209.80 L755.94 209.80 L756.94 209.80 L757.94 209.80 L758.94 209.80 L759.94 209.80 L760.94 209.80 L761.93 209.80 L762.93 209.80 L763.93 209.80 L764.93 209.80 L765.93 209.80 L766.93 209.80 L767.93 209.80 L768.93 209.80 L769.93 209.80 L770.92 209.80 L771.92 209.80 L772.92 209.80 L773.92 209.80 L774.92 209.80 L775.92 209.80 L776.92 209.80 L777.92 209.80 L778.92 209.80 L779.91 209.80 L780.91 209.80 L781.91 209.80 L782.91 209.80 L783.91 209.80 L784.91 209.80 L785.91 209.80 L786.91 209.80 L787.91 209.80 L788.91 209.80 L789.90 209.80 L790.90 209.80 L791.90 209.80 L792.90 209.80 L793.90 209.80" fill="none" stroke="#000" stroke-width="3.50" stroke-dasharray="13.3 5.2" stroke-dashoffset="14.5"/>
<path d="M0.00 209.80 L1.00 209.80 L2.00 209.80 L3.00 209.80 L4.00 209.80 L5.00 209.80 L6.00 209.80 L7.00 209.80 L8.00 209.80 L9.00 209.80 L10.00 209.80 L11.00 209.80 L12.00 209.80 L13.00 209.80 L14.00 209.80 L15.00 209.80 L16.00 209.80 L17.00 209.80 L18.00 209.80 L19.00 209.80 L20.00 209.80 L21.00 209.80 L22.00 209.80 L23.00 209.80 L24.00 209.80 L25.00 209.80 L26.00 209.80 L27.00 209.80 L28.00 209.80 L29.00 209.80 L30.00 209.80 L31.00 209.80 L32.00 209.80 L33.00 209.80 L34.00 209.80 L35.00 209.80 L36.00 209.80 L37.00 209.80 L38.00 209.80 L39.00 209.80 L39.99 209.80 L40.99 209.80 L41.99 209.80 L42.99 209.80 L43.99 209.80 L44.99 209.80 L45.99 209.80 L46.99 209.80 L47.99 209.80 L48.99 209.80 L49.99 209.80 L50.99 209.80 L51.99 209.80 L52.99 209.80 L53.99 209.80 L54.99 209.80 L55.99 209.80 L56.99 209.80 L57.99 209.80 L58.99 209.80 L59.99 209.80 L60.99 209.80 L61.99 209.80 L62.99 209.80 L63.99 209.80 L64.99 209.80 L65.99 209.80 L66.99 209.80 L67.99 209.80 L68.99 209.80 L69.99 209.80 L70.99 209.80 L71.99 209.80 L72.99 209.80 L73.99 209.80 L74.99 209.80 L75.99 209.80 L76.99 209.80 L77.99 209.80 L78.99 209.80 L79.99 209.80 L80.99 209.80 L81.99 209.80 L82.99 209.80 L83.99 209.80 L84.99 209.80 L85.99 209.80 L86.99 209.80 L87.99 209.80 L88.99 209.80 L89.99 209.80 L90.99 209.80 L91.99 209.80 L92.99 209.80 L93.99 209.80 L94.99 209.80 L95.99 209.80 L96.99 209.80 L97.99 209.80 L98.99 209.80 L99.99 209.80 L100.99 209.80 L101.99 209.80 L102.99 209.80 L103.99 209.80 L104.99 209.80 L105.99 209.80 L106.99 209.80 L107.99 209.80 L108.99 209.80 L109.99 209.80 L110.99 209.80 L111.99 209.80 L112.99 209.80 L113.99 209.80 L114.99 209.80 L115.99 209.80 L116.99 209.80 L117.99 209.80 L118.99 209.80 L119.98 209.80 L120.98 209.80 L121.98 209.80 L122.98 209.80 L123.98 209.80 L124.98 209.80 L125.98 209.80 L126.98 209.80 L127.98 209.80 L128.98 209.80 L129.98 209.80 L130.98 209.80 L131.98 209.80 L132.98 209.80 L133.98 209.80 L134.98 209.80 L135.98 209.80 L136.98 209.80 L137.98 209.80 L138.98 209.80 L139.98 209.80 L140.98 209.79 L141.98 209.79 L142.98 209.79 L143.98 209.79 L144.98 209.79 L145.98 209.79 L146.98 209.79 L147.98 209.79 L148.98 209.79 L149.98 209.79 L150.98 209.79 L151.98 209.79 L152.98 209.79 L153.98 209.79 L154.98 209.79 L155.98 209.79 L156.98 209.78 L157.98 209.78 L158.98 209.78 L159.98 209.78 L160.98 209.78 L161.98 209.78 L162.98 209.78 L163.98 209.78 L164.98 209.77 L165.98 209.77 L166.98 209.77 L167.98 209.77 L168.98 209.77 L169.98 209.76 L170.98 209.76 L171.98 209.76 L172.98 209.76 L173.98 209.75 L174.98 209.75 L175.98 209.75 L176.98 209.74 L177.98 209.74 L178.98 209.74 L179.98 209.73 L180.98 209.73 L181.98 209.72 L182.98 209.72 L183.98 209.71 L184.98 209.71 L185.98 209.70 L186.98 209.70 L187.98 209.69 L188.98 209.68 L189.98 209.68 L190.98 209.67 L191.98 209.66 L192.98 209.65 L193.98 209.64 L194.98 209.63 L195.98 209.62 L196.98 209.61 L197.98 209.60 L198.97 209.59 L199.97 209.58 L200.97 209.57 L201.97 209.55 L202.97 209.54 L203.97 209.52 L204.97 209.51 L205.97 209.49 L206.97 209.47 L207.97 209.45 L208.97 209.44 L209.97 209.42 L210.97 209.39 L211.97 209.37 L212.97 209.35 L213.97 209.32 L214.97 209.30 L215.97 209.27 L216.97 209.24 L217.97 209.21 L218.97 209.18 L219.97 209.15 L220.97 209.11 L221.97 209.08 L222.97 209.04 L223.97 209.00 L224.97 208.96 L225.97 208.91 L226.97 208.87 L227.97 208.82 L228.97 208.77 L229.97 208.72 L230.97 208.67 L231.97 208.61 L232.97 208.55 L233.97 208.49 L234.97 208.42 L235.97 208.36 L236.97 208.29 L237.97 208.21 L238.97 208.14 L239.97 208.06 L240.97 207.97 L241.97 207.89 L242.97 207.80 L243.97 207.70 L244.97 207.61 L245.97 207.50 L246.97 207.40 L247.97 207.29 L248.97 207.17 L249.97 207.06 L250.97 206.93 L251.97 206.80 L252.97 206.67 L253.97 206.53 L254.97 206.39 L255.97 206.24 L256.97 206.08 L257.97 205.92 L258.97 205.76 L259.97 205.59 L260.97 205.41 L261.97 205.22 L262.97 205.03 L263.97 204.83 L264.97 204.63 L265.97 204.41 L266.97 204.19 L267.97 203.97 L268.97 203.73 L269.97 203.49 L270.97 203.24 L271.97 202.98 L272.97 202.71 L273.97 202.44 L274.97 202.15 L275.97 201.86 L276.97 201.56 L277.96 201.25 L278.96 200.92 L279.96 200.59 L280.96 200.25 L281.96 199.90 L282.96 199.54 L283.96 199.17 L284.96 198.79 L285.96 198.39 L286.96 197.99 L287.96 197.57 L288.96 197.15 L289.96 196.71 L290.96 196.26 L291.96 195.80 L292.96 195.33 L293.96 194.84 L294.96 194.35 L295.96 193.84 L296.96 193.32 L297.96 192.78 L298.96 192.24 L299.96 191.68 L300.96 191.11 L301.96 190.52 L302.96 189.92 L303.96 189.31 L304.96 188.69 L305.96 188.05 L306.96 187.40 L307.96 186.74 L308.96 186.07 L309.96 185.38 L310.96 184.67 L311.96 183.96 L312.96 183.23 L313.96 182.49 L314.96 181.73 L315.96 180.97 L316.96 180.19 L317.96 179.39 L318.96 178.59 L319.96 177.77 L320.96 176.94 L321.96 176.10 L322.96 175.24 L323.96 174.38 L324.96 173.50 L325.96 172.61 L326.96 171.71 L327.96 170.80 L328.96 169.88 L329.96 168.95 L330.96 168.01 L331.96 167.06 L332.96 166.10 L333.96 165.13 L334.96 164.16 L335.96 163.17 L336.96 162.18 L337.96 161.19 L338.96 160.18 L339.96 159.17 L340.96 158.15 L341.96 157.13 L342.96 156.11 L343.96 155.08 L344.96 154.05 L345.96 153.01 L346.96 151.97 L347.96 150.93 L348.96 149.90 L349.96 148.86 L350.96 147.82 L351.96 146.78 L352.96 145.75 L353.96 144.71 L354.96 143.69 L355.96 142.66 L356.96 141.64 L357.95 140.63 L358.95 139.63 L359.95 138.63 L360.95 137.64 L361.95 136.66 L362.95 135.69 L363.95 134.73 L364.95 133.78 L365.95 132.84 L366.95 131.92 L367.95 131.02 L368.95 130.13 L369.95 129.25 L370.95 128.39 L371.95 127.55 L372.95 126.73 L373.95 125.93 L374.95 125.15 L375.95 124.40 L376.95 123.66 L377.95 122.95 L378.95 122.27 L379.95 121.61 L380.95 120.97 L381.95 120.37 L382.95 119.79 L383.95 119.24 L384.95 118.72 L385.95 118.24 L386.95 117.78 L387.95 117.36 L388.95 116.98 L389.95 116.63 L390.95 116.31 L391.95 116.04 L392.95 115.80 L393.95 115.61 L394.95 115.46 L395.95 115.36 L396.95 115.30 L397.95 115.30 L398.95 115.32 L399.95 115.36 L400.95 115.41 L401.95 115.48 L402.95 115.56 L403.95 115.67 L404.95 115.78 L405.95 115.92 L406.95 116.07 L407.95 116.23 L408.95 116.41 L409.95 116.61 L410.95 116.82 L411.95 117.05 L412.95 117.29 L413.95 117.55 L414.95 117.82 L415.95 118.11 L416.95 118.42 L417.95 118.73 L418.95 119.07 L419.95 119.42 L420.95 119.78 L421.95 120.15 L422.95 120.54 L423.95 120.95 L424.95 121.36 L425.95 121.79 L426.95 122.23 L427.95 122.69 L428.95 123.16 L429.95 123.64 L430.95 124.13 L431.95 124.64 L432.95 125.15 L433.95 125.68 L434.95 126.22 L435.95 126.77 L436.94 127.33 L437.94 127.90 L438.94 128.48 L439.94 129.07 L440.94 129.67 L441.94 130.28 L442.94 130.90 L443.94 131.53 L444.94 132.17 L445.94 132.81 L446.94 133.46 L447.94 134.12 L448.94 134.79 L449.94 135.46 L450.94 136.14 L451.94 136.83 L452.94 137.52 L453.94 138.22 L454.94 138.92 L455.94 139.63 L456.94 140.35 L457.94 141.07 L458.94 141.79 L459.94 142.52 L460.94 143.25 L461.94 143.98 L462.94 144.72 L463.94 145.46 L464.94 146.20 L465.94 146.95 L466.94 147.69 L467.94 148.44 L468.94 149.19 L469.94 149.95 L470.94 150.70 L471.94 151.45 L472.94 152.20 L473.94 152.96 L474.94 153.71 L475.94 154.46 L476.94 155.22 L477.94 155.97 L478.94 156.72 L479.94 157.47 L480.94 158.21 L481.94 158.96 L482.94 159.70 L483.94 160.44 L484.94 161.18 L485.94 161.92 L486.94 162.65 L487.94 163.38 L488.94 164.10 L489.94 164.83 L490.94 165.54 L491.94 166.26 L492.94 166.97 L493.94 167.68 L494.94 168.38 L495.94 169.07 L496.94 169.77 L497.94 170.45 L498.94 171.14 L499.94 171.81 L500.94 172.48 L501.94 173.15 L502.94 173.81 L503.94 174.47 L504.94 175.11 L505.94 175.76 L506.94 176.39 L507.94 177.02 L508.94 177.65 L509.94 178.26 L510.94 178.88 L511.94 179.48 L512.94 180.08 L513.94 180.67 L514.94 181.25 L515.94 181.83 L516.93 182.40 L517.93 182.96 L518.93 183.52 L519.93 184.07 L520.93 184.61 L521.93 185.15 L522.93 185.67 L523.93 186.19 L524.93 186.71 L525.93 187.21 L526.93 187.71 L527.93 188.20 L528.93 188.69 L529.93 189.16 L530.93 189.63 L531.93 190.10 L532.93 190.55 L533.93 191.00 L534.93 191.44 L535.93 191.87 L536.93 192.30 L537.93 192.72 L538.93 193.13 L539.93 193.53 L540.93 193.93 L541.93 194.32 L542.93 194.71 L543.93 195.08 L544.93 195.45 L545.93 195.81 L546.93 196.17 L547.93 196.52 L548.93 196.86 L549.93 197.20 L550.93 197.53 L551.93 197.85 L552.93 198.17 L553.93 198.48 L554.93 198.78 L555.93 199.08 L556.93 199.37 L557.93 199.65 L558.93 199.93 L559.93 200.20 L560.93 200.47 L561.93 200.73 L562.93 200.99 L563.93 201.24 L564.93 201.48 L565.93 201.72 L566.93 201.95 L567.93 202.18 L568.93 202.40 L569.93 202.62 L570.93 202.83 L571.93 203.04 L572.93 203.24 L573.93 203.44 L574.93 203.63 L575.93 203.81 L576.93 204.00 L577.93 204.18 L578.93 204.35 L579.93 204.52 L580.93 204.68 L581.93 204.84 L582.93 205.00 L583.93 205.15 L584.93 205.30 L585.93 205.44 L586.93 205.58 L587.93 205.72 L588.93 205.85 L589.93 205.98 L590.93 206.11 L591.93 206.23 L592.93 206.35 L593.93 206.46 L594.93 206.57 L595.92 206.68 L596.92 206.79 L597.92 206.89 L598.92 206.99 L599.92 207.09 L600.92 207.18 L601.92 207.27 L602.92 207.36 L603.92 207.44 L604.92 207.53 L605.92 207.61 L606.92 207.69 L607.92 207.76 L608.92 207.83 L609.92 207.90 L610.92 207.97 L611.92 208.04 L612.92 208.10 L613.92 208.17 L614.92 208.23 L615.92 208.28 L616.92 208.34 L617.92 208.40 L618.92 208.45 L619.92 208.50 L620.92 208.55 L621.92 208.60 L622.92 208.64 L623.92 208.69 L624.92 208.73 L625.92 208.77 L626.92 208.81 L627.92 208.85 L628.92 208.89 L629.92 208.92 L630.92 208.96 L631.92 208.99 L632.92 209.02 L633.92 209.05 L634.92 209.08 L635.92 209.11 L636.92 209.14 L637.92 209.17 L638.92 209.19 L639.92 209.22 L640.92 209.24 L641.92 209.26 L642.92 209.29 L643.92 209.31 L644.92 209.33 L645.92 209.35 L646.92 209.37 L647.92 209.39 L648.92 209.40 L649.92 209.42 L650.92 209.44 L651.92 209.45 L652.92 209.47 L653.92 209.48 L654.92 209.50 L655.92 209.51 L656.92 209.52 L657.92 209.53 L658.92 209.55 L659.92 209.56 L660.92 209.57 L661.92 209.58 L662.92 209.59 L663.92 209.60 L664.92 209.61 L665.92 209.62 L666.92 209.62 L667.92 209.63 L668.92 209.64 L669.92 209.65 L670.92 209.65 L671.92 209.66 L672.92 209.67 L673.92 209.67 L674.91 209.68 L675.91 209.69 L676.91 209.69 L677.91 209.70 L678.91 209.70 L679.91 209.71 L680.91 209.71 L681.91 209.71 L682.91 209.72 L683.91 209.72 L684.91 209.73 L685.91 209.73 L686.91 209.73 L687.91 209.74 L688.91 209.74 L689.91 209.74 L690.91 209.75 L691.91 209.75 L692.91 209.75 L693.91 209.75 L694.91 209.76 L695.91 209.76 L696.91 209.76 L697.91 209.76 L698.91 209.76 L699.91 209.77 L700.91 209.77 L701.91 209.77 L702.91 209.77 L703.91 209.77 L704.91 209.77 L705.91 209.77 L706.91 209.78 L707.91 209.78 L708.91 209.78 L709.91 209.78 L710.91 209.78 L711.91 209.78 L712.91 209.78 L713.91 209.78 L714.91 209.78 L715.91 209.79 L716.91 209.79 L717.91 209.79 L718.91 209.79 L719.91 209.79 L720.91 209.79 L721.91 209.79 L722.91 209.79 L723.91 209.79 L724.91 209.79 L725.91 209.79 L726.91 209.79 L727.91 209.79 L728.91 209.79 L729.91 209.79 L730.91 209.79 L731.91 209.79 L732.91 209.79 L733.91 209.79 L734.91 209.80 L735.91 209.80 L736.91 209.80 L737.91 209.80 L738.91 209.80 L739.91 209.80 L740.91 209.80 L741.91 209.80 L742.91 209.80 L743.91 209.80 L744.91 209.80 L745.91 209.80 L746.91 209.80 L747.91 209.80 L748.91 209.80 L749.91 209.80 L750.91 209.80 L751.91 209.80 L752.91 209.80 L753.91 209.80 L754.90 209.80 L755.90 209.80 L756.90 209.80 L757.90 209.80 L758.90 209.80 L759.90 209.80 L760.90 209.80 L761.90 209.80 L762.90 209.80 L763.90 209.80 L764.90 209.80 L765.90 209.80 L766.90 209.80 L767.90 209.80 L768.90 209.80 L769.90 209.80 L770.90 209.80 L771.90 209.80 L772.90 209.80 L773.90 209.80 L774.90 209.80 L775.90 209.80 L776.90 209.80 L777.90 209.80 L778.90 209.80 L779.90 209.80 L780.90 209.80 L781.90 209.80 L782.90 209.80 L783.90 209.80 L784.90 209.80 L785.90 209.80 L786.90 209.80 L787.90 209.80 L788.90 209.80 L789.90 209.80 L790.90 209.80 L791.90 209.80 L792.90 209.80 L793.90 209.80" fill="none" stroke="#00ff00" stroke-width="3.70" stroke-linejoin="round"/>
<path d="M0.00 313.80 L1.00 313.80 L2.00 313.80 L3.00 313.80 L4.00 313.80 L5.00 313.80 L6.00 313.80 L7.00 313.80 L8.01 313.80 L9.01 313.80 L10.01 313.80 L11.01 313.80 L12.01 313.80 L13.01 313.80 L14.01 313.80 L15.01 313.80 L16.01 313.80 L17.01 313.80 L18.01 313.80 L19.01 313.80 L20.01 313.80 L21.01 313.80 L22.01 313.80 L23.01 313.80 L24.02 313.80 L25.02 313.80 L26.02 313.80 L27.02 313.80 L28.02 313.80 L29.02 313.80 L30.02 313.80 L31.02 313.80 L32.02 313.80 L33.02 313.80 L34.02 313.80 L35.02 313.80 L36.02 313.80 L37.02 313.80 L38.02 313.80 L39.02 313.80 L40.03 313.80 L41.03 313.80 L42.03 313.80 L43.03 313.80 L44.03 313.80 L45.03 313.80 L46.03 313.80 L47.03 313.80 L48.03 313.80 L49.03 313.80 L50.03 313.80 L51.03 313.80 L52.03 313.80 L53.03 313.80 L54.03 313.80 L55.03 313.80 L56.04 313.80 L57.04 313.80 L58.04 313.80 L59.04 313.80 L60.04 313.79 L61.04 313.79 L62.04 313.79 L63.04 313.79 L64.04 313.79 L65.04 313.79 L66.04 313.79 L67.04 313.79 L68.04 313.79 L69.04 313.79 L70.04 313.79 L71.04 313.79 L72.05 313.79 L73.05 313.79 L74.05 313.79 L75.05 313.79 L76.05 313.79 L77.05 313.79 L78.05 313.79 L79.05 313.79 L80.05 313.78 L81.05 313.78 L82.05 313.78 L83.05 313.78 L84.05 313.78 L85.05 313.78 L86.05 313.78 L87.05 313.78 L88.06 313.78 L89.06 313.77 L90.06 313.77 L91.06 313.77 L92.06 313.77 L93.06 313.77 L94.06 313.77 L95.06 313.76 L96.06 313.76 L97.06 313.76 L98.06 313.76 L99.06 313.76 L100.06 313.75 L101.06 313.75 L102.06 313.75 L103.06 313.75 L104.07 313.74 L105.07 313.74 L106.07 313.74 L107.07 313.73 L108.07 313.73 L109.07 313.73 L110.07 313.72 L111.07 313.72 L112.07 313.72 L113.07 313.71 L114.07 313.71 L115.07 313.70 L116.07 313.70 L117.07 313.69 L118.07 313.69 L119.07 313.68 L120.08 313.68 L121.08 313.67 L122.08 313.66 L123.08 313.66 L124.08 313.65 L125.08 313.64 L126.08 313.64 L127.08 313.63 L128.08 313.62 L129.08 313.61 L130.08 313.60 L131.08 313.59 L132.08 313.58 L133.08 313.57 L134.08 313.56 L135.09 313.55 L136.09 313.54 L137.09 313.53 L138.09 313.52 L139.09 313.50 L140.09 313.49 L141.09 313.47 L142.09 313.46 L143.09 313.44 L144.09 313.43 L145.09 313.41 L146.09 313.39 L147.09 313.38 L148.09 313.36 L149.09 313.34 L150.09 313.32 L151.10 313.30 L152.10 313.28 L153.10 313.25 L154.10 313.23 L155.10 313.21 L156.10 313.18 L157.10 313.15 L158.10 313.13 L159.10 313.10 L160.10 313.07 L161.10 313.04 L162.10 313.01 L163.10 312.97 L164.10 312.94 L165.10 312.90 L166.10 312.87 L167.11 312.83 L168.11 312.79 L169.11 312.75 L170.11 312.71 L171.11 312.66 L172.11 312.62 L173.11 312.57 L174.11 312.52 L175.11 312.47 L176.11 312.42 L177.11 312.37 L178.11 312.31 L179.11 312.25 L180.11 312.19 L181.11 312.13 L182.11 312.07 L183.12 312.00 L184.12 311.94 L185.12 311.87 L186.12 311.79 L187.12 311.72 L188.12 311.64 L189.12 311.56 L190.12 311.48 L191.12 311.40 L192.12 311.31 L193.12 311.22 L194.12 311.13 L195.12 311.03 L196.12 310.94 L197.12 310.83 L198.12 310.73 L199.13 310.62 L200.13 310.51 L201.13 310.40 L202.13 310.28 L203.13 310.16 L204.13 310.04 L205.13 309.91 L206.13 309.78 L207.13 309.64 L208.13 309.51 L209.13 309.36 L210.13 309.22 L211.13 309.07 L212.13 308.91 L213.13 308.75 L214.13 308.59 L215.14 308.42 L216.14 308.25 L217.14 308.08 L218.14 307.89 L219.14 307.71 L220.14 307.52 L221.14 307.32 L222.14 307.12 L223.14 306.92 L224.14 306.71 L225.14 306.50 L226.14 306.28 L227.14 306.05 L228.14 305.82 L229.14 305.58 L230.14 305.34 L231.15 305.09 L232.15 304.84 L233.15 304.58 L234.15 304.32 L235.15 304.05 L236.15 303.77 L237.15 303.49 L238.15 303.20 L239.15 302.91 L240.15 302.60 L241.15 302.30 L242.15 301.98 L243.15 301.66 L244.15 301.34 L245.15 301.00 L246.15 300.66 L247.16 300.32 L248.16 299.96 L249.16 299.60 L250.16 299.24 L251.16 298.86 L252.16 298.48 L253.16 298.09 L254.16 297.70 L255.16 297.30 L256.16 296.89 L257.16 296.47 L258.16 296.05 L259.16 295.62 L260.16 295.18 L261.16 294.73 L262.16 294.28 L263.17 293.82 L264.17 293.35 L265.17 292.88 L266.17 292.40 L267.17 291.91 L268.17 291.41 L269.17 290.91 L270.17 290.40 L271.17 289.88 L272.17 289.35 L273.17 288.82 L274.17 288.28 L275.17 287.74 L276.17 287.18 L277.17 286.62 L278.18 286.05 L279.18 285.48 L280.18 284.90 L281.18 284.31 L282.18 283.71 L283.18 283.11 L284.18 282.50 L285.18 281.89 L286.18 281.26 L287.18 280.63 L288.18 280.00 L289.18 279.36 L290.18 278.71 L291.18 278.06 L292.18 277.40 L293.18 276.74 L294.19 276.07 L295.19 275.39 L296.19 274.71 L297.19 274.03 L298.19 273.33 L299.19 272.64 L300.19 271.94 L301.19 271.23 L302.19 270.52 L303.19 269.81 L304.19 269.09 L305.19 268.37 L306.19 267.65 L307.19 266.92 L308.19 266.19 L309.19 265.45 L310.20 264.71 L311.20 263.97 L312.20 263.23 L313.20 262.48 L314.20 261.74 L315.20 260.99 L316.20 260.24 L317.20 259.49 L318.20 258.73 L319.20 257.98 L320.20 257.23 L321.20 256.47 L322.20 255.72 L323.20 254.97 L324.20 254.21 L325.20 253.46 L326.21 252.71 L327.21 251.96 L328.21 251.21 L329.21 250.46 L330.21 249.72 L331.21 248.98 L332.21 248.24 L333.21 247.50 L334.21 246.77 L335.21 246.04 L336.21 245.32 L337.21 244.60 L338.21 243.88 L339.21 243.17 L340.21 242.46 L341.21 241.76 L342.22 241.06 L343.22 240.38 L344.22 239.69 L345.22 239.02 L346.22 238.35 L347.22 237.68 L348.22 237.03 L349.22 236.38 L350.22 235.74 L351.22 235.11 L352.22 234.49 L353.22 233.88 L354.22 233.27 L355.22 232.68 L356.22 232.09 L357.22 231.52 L358.23 230.95 L359.23 230.40 L360.23 229.86 L361.23 229.33 L362.23 228.81 L363.23 228.30 L364.23 227.80 L365.23 227.31 L366.23 226.84 L367.23 226.38 L368.23 225.93 L369.23 225.50 L370.23 225.08 L371.23 224.67 L372.23 224.28 L373.23 223.89 L374.24 223.53 L375.24 223.18 L376.24 222.84 L377.24 222.52 L378.24 222.21 L379.24 221.91 L380.24 221.63 L381.24 221.37 L382.24 221.12 L383.24 220.89 L384.24 220.67 L385.24 220.47 L386.24 220.28 L387.24 220.11 L388.24 219.96 L389.24 219.82 L390.25 219.70 L391.25 219.59 L392.25 219.50 L393.25 219.43 L394.25 219.37 L395.25 219.33 L396.25 219.31 L397.25 219.30" fill="none" stroke="#000" stroke-width="3.70" stroke-dasharray="13.3 5.2" stroke-dashoffset="5"/>
<path d="M700.00 313.77 L701.00 313.77 L702.00 313.77 L703.00 313.77 L704.00 313.77 L704.99 313.77 L705.99 313.78 L706.99 313.78 L707.99 313.78 L708.99 313.78 L709.99 313.78 L710.99 313.78 L711.99 313.78 L712.99 313.78 L713.99 313.78 L714.98 313.78 L715.98 313.79 L716.98 313.79 L717.98 313.79 L718.98 313.79 L719.98 313.79 L720.98 313.79 L721.98 313.79 L722.98 313.79 L723.97 313.79 L724.97 313.79 L725.97 313.79 L726.97 313.79 L727.97 313.79 L728.97 313.79 L729.97 313.79 L730.97 313.79 L731.97 313.79 L732.96 313.79 L733.96 313.79 L734.96 313.80 L735.96 313.80 L736.96 313.80 L737.96 313.80 L738.96 313.80 L739.96 313.80 L740.96 313.80 L741.96 313.80 L742.95 313.80 L743.95 313.80 L744.95 313.80 L745.95 313.80 L746.95 313.80 L747.95 313.80 L748.95 313.80 L749.95 313.80 L750.95 313.80 L751.94 313.80 L752.94 313.80 L753.94 313.80 L754.94 313.80 L755.94 313.80 L756.94 313.80 L757.94 313.80 L758.94 313.80 L759.94 313.80 L760.94 313.80 L761.93 313.80 L762.93 313.80 L763.93 313.80 L764.93 313.80 L765.93 313.80 L766.93 313.80 L767.93 313.80 L768.93 313.80 L769.93 313.80 L770.92 313.80 L771.92 313.80 L772.92 313.80 L773.92 313.80 L774.92 313.80 L775.92 313.80 L776.92 313.80 L777.92 313.80 L778.92 313.80 L779.91 313.80 L780.91 313.80 L781.91 313.80 L782.91 313.80 L783.91 313.80 L784.91 313.80 L785.91 313.80 L786.91 313.80 L787.91 313.80 L788.91 313.80 L789.90 313.80 L790.90 313.80 L791.90 313.80 L792.90 313.80 L793.90 313.80" fill="none" stroke="#000" stroke-width="3.50" stroke-dasharray="13.3 5.2" stroke-dashoffset="14.5"/>
<path d="M0.00 313.80 L1.00 313.80 L2.00 313.80 L3.00 313.80 L4.00 313.80 L5.00 313.80 L6.00 313.80 L7.00 313.80 L8.00 313.80 L9.00 313.80 L10.00 313.80 L11.00 313.80 L12.00 313.80 L13.00 313.80 L14.00 313.80 L15.00 313.80 L16.00 313.80 L17.00 313.80 L18.00 313.80 L19.00 313.80 L20.00 313.80 L21.00 313.80 L22.00 313.80 L23.00 313.80 L24.00 313.80 L25.00 313.80 L26.00 313.80 L27.00 313.80 L28.00 313.80 L29.00 313.80 L30.00 313.80 L31.00 313.80 L32.00 313.80 L33.00 313.80 L34.00 313.80 L35.00 313.80 L36.00 313.80 L37.00 313.80 L38.00 313.80 L39.00 313.80 L39.99 313.80 L40.99 313.80 L41.99 313.80 L42.99 313.80 L43.99 313.80 L44.99 313.80 L45.99 313.80 L46.99 313.80 L47.99 313.80 L48.99 313.80 L49.99 313.80 L50.99 313.80 L51.99 313.80 L52.99 313.80 L53.99 313.80 L54.99 313.80 L55.99 313.80 L56.99 313.80 L57.99 313.80 L58.99 313.80 L59.99 313.80 L60.99 313.80 L61.99 313.80 L62.99 313.80 L63.99 313.80 L64.99 313.80 L65.99 313.80 L66.99 313.80 L67.99 313.80 L68.99 313.80 L69.99 313.80 L70.99 313.80 L71.99 313.80 L72.99 313.80 L73.99 313.80 L74.99 313.80 L75.99 313.80 L76.99 313.80 L77.99 313.80 L78.99 313.80 L79.99 313.80 L80.99 313.80 L81.99 313.80 L82.99 313.80 L83.99 313.80 L84.99 313.80 L85.99 313.80 L86.99 313.80 L87.99 313.80 L88.99 313.80 L89.99 313.80 L90.99 313.80 L91.99 313.80 L92.99 313.80 L93.99 313.80 L94.99 313.80 L95.99 313.80 L96.99 313.80 L97.99 313.80 L98.99 313.80 L99.99 313.80 L100.99 313.80 L101.99 313.80 L102.99 313.80 L103.99 313.80 L104.99 313.80 L105.99 313.80 L106.99 313.80 L107.99 313.80 L108.99 313.80 L109.99 313.80 L110.99 313.80 L111.99 313.80 L112.99 313.80 L113.99 313.80 L114.99 313.80 L115.99 313.80 L116.99 313.80 L117.99 313.80 L118.99 313.80 L119.98 313.80 L120.98 313.80 L121.98 313.80 L122.98 313.80 L123.98 313.80 L124.98 313.80 L125.98 313.80 L126.98 313.80 L127.98 313.79 L128.98 313.79 L129.98 313.79 L130.98 313.79 L131.98 313.79 L132.98 313.79 L133.98 313.79 L134.98 313.79 L135.98 313.79 L136.98 313.79 L137.98 313.79 L138.98 313.79 L139.98 313.79 L140.98 313.79 L141.98 313.79 L142.98 313.79 L143.98 313.79 L144.98 313.78 L145.98 313.78 L146.98 313.78 L147.98 313.78 L148.98 313.78 L149.98 313.78 L150.98 313.78 L151.98 313.78 L152.98 313.77 L153.98 313.77 L154.98 313.77 L155.98 313.77 L156.98 313.77 L157.98 313.76 L158.98 313.76 L159.98 313.76 L160.98 313.76 L161.98 313.75 L162.98 313.75 L163.98 313.75 L164.98 313.75 L165.98 313.74 L166.98 313.74 L167.98 313.74 L168.98 313.73 L169.98 313.73 L170.98 313.72 L171.98 313.72 L172.98 313.71 L173.98 313.71 L174.98 313.70 L175.98 313.70 L176.98 313.69 L177.98 313.68 L178.98 313.68 L179.98 313.67 L180.98 313.66 L181.98 313.65 L182.98 313.65 L183.98 313.64 L184.98 313.63 L185.98 313.62 L186.98 313.61 L187.98 313.60 L188.98 313.59 L189.98 313.57 L190.98 313.56 L191.98 313.55 L192.98 313.54 L193.98 313.52 L194.98 313.51 L195.98 313.49 L196.98 313.47 L197.98 313.46 L198.97 313.44 L199.97 313.42 L200.97 313.40 L201.97 313.38 L202.97 313.35 L203.97 313.33 L204.97 313.31 L205.97 313.28 L206.97 313.25 L207.97 313.23 L208.97 313.20 L209.97 313.17 L210.97 313.13 L211.97 313.10 L212.97 313.06 L213.97 313.03 L214.97 312.99 L215.97 312.95 L216.97 312.91 L217.97 312.86 L218.97 312.82 L219.97 312.77 L220.97 312.72 L221.97 312.67 L222.97 312.61 L223.97 312.56 L224.97 312.50 L225.97 312.44 L226.97 312.37 L227.97 312.31 L228.97 312.24 L229.97 312.17 L230.97 312.09 L231.97 312.01 L232.97 311.93 L233.97 311.85 L234.97 311.76 L235.97 311.67 L236.97 311.57 L237.97 311.47 L238.97 311.37 L239.97 311.27 L240.97 311.16 L241.97 311.04 L242.97 310.92 L243.97 310.80 L244.97 310.67 L245.97 310.54 L246.97 310.40 L247.97 310.26 L248.97 310.11 L249.97 309.96 L250.97 309.80 L251.97 309.64 L252.97 309.47 L253.97 309.30 L254.97 309.12 L255.97 308.93 L256.97 308.74 L257.97 308.54 L258.97 308.33 L259.97 308.12 L260.97 307.90 L261.97 307.67 L262.97 307.44 L263.97 307.20 L264.97 306.95 L265.97 306.69 L266.97 306.43 L267.97 306.16 L268.97 305.88 L269.97 305.59 L270.97 305.29 L271.97 304.99 L272.97 304.67 L273.97 304.35 L274.97 304.02 L275.97 303.68 L276.97 303.33 L277.96 302.97 L278.96 302.60 L279.96 302.22 L280.96 301.83 L281.96 301.43 L282.96 301.02 L283.96 300.60 L284.96 300.17 L285.96 299.72 L286.96 299.27 L287.96 298.81 L288.96 298.34 L289.96 297.85 L290.96 297.35 L291.96 296.85 L292.96 296.33 L293.96 295.80 L294.96 295.25 L295.96 294.70 L296.96 294.13 L297.96 293.56 L298.96 292.97 L299.96 292.37 L300.96 291.76 L301.96 291.13 L302.96 290.50 L303.96 289.85 L304.96 289.19 L305.96 288.52 L306.96 287.83 L307.96 287.14 L308.96 286.43 L309.96 285.71 L310.96 284.98 L311.96 284.24 L312.96 283.49 L313.96 282.72 L314.96 281.95 L315.96 281.16 L316.96 280.36 L317.96 279.55 L318.96 278.73 L319.96 277.91 L320.96 277.07 L321.96 276.22 L322.96 275.36 L323.96 274.49 L324.96 273.61 L325.96 272.73 L326.96 271.83 L327.96 270.93 L328.96 270.02 L329.96 269.10 L330.96 268.17 L331.96 267.24 L332.96 266.30 L333.96 265.35 L334.96 264.40 L335.96 263.44 L336.96 262.48 L337.96 261.51 L338.96 260.54 L339.96 259.57 L340.96 258.59 L341.96 257.61 L342.96 256.63 L343.96 255.65 L344.96 254.66 L345.96 253.68 L346.96 252.70 L347.96 251.71 L348.96 250.73 L349.96 249.75 L350.96 248.78 L351.96 247.81 L352.96 246.84 L353.96 245.87 L354.96 244.91 L355.96 243.96 L356.96 243.02 L357.95 242.08 L358.95 241.15 L359.95 240.23 L360.95 239.32 L361.95 238.41 L362.95 237.52 L363.95 236.65 L364.95 235.78 L365.95 234.93 L366.95 234.09 L367.95 233.27 L368.95 232.46 L369.95 231.67 L370.95 230.89 L371.95 230.14 L372.95 229.40 L373.95 228.68 L374.95 227.98 L375.95 227.30 L376.95 226.65 L377.95 226.01 L378.95 225.40 L379.95 224.82 L380.95 224.25 L381.95 223.72 L382.95 223.21 L383.95 222.73 L384.95 222.27 L385.95 221.84 L386.95 221.45 L387.95 221.08 L388.95 220.74 L389.95 220.44 L390.95 220.17 L391.95 219.93 L392.95 219.73 L393.95 219.56 L394.95 219.43 L395.95 219.35 L396.95 219.30 L397.95 219.30 L398.95 219.32 L399.95 219.36 L400.95 219.41 L401.95 219.48 L402.95 219.56 L403.95 219.67 L404.95 219.78 L405.95 219.92 L406.95 220.07 L407.95 220.23 L408.95 220.41 L409.95 220.61 L410.95 220.82 L411.95 221.05 L412.95 221.29 L413.95 221.55 L414.95 221.82 L415.95 222.11 L416.95 222.42 L417.95 222.73 L418.95 223.07 L419.95 223.42 L420.95 223.78 L421.95 224.15 L422.95 224.54 L423.95 224.95 L424.95 225.36 L425.95 225.79 L426.95 226.23 L427.95 226.69 L428.95 227.16 L429.95 227.64 L430.95 228.13 L431.95 228.64 L432.95 229.15 L433.95 229.68 L434.95 230.22 L435.95 230.77 L436.94 231.33 L437.94 231.90 L438.94 232.48 L439.94 233.07 L440.94 233.67 L441.94 234.28 L442.94 234.90 L443.94 235.53 L444.94 236.17 L445.94 236.81 L446.94 237.46 L447.94 238.12 L448.94 238.79 L449.94 239.46 L450.94 240.14 L451.94 240.83 L452.94 241.52 L453.94 242.22 L454.94 242.92 L455.94 243.63 L456.94 244.35 L457.94 245.07 L458.94 245.79 L459.94 246.52 L460.94 247.25 L461.94 247.98 L462.94 248.72 L463.94 249.46 L464.94 250.20 L465.94 250.95 L466.94 251.69 L467.94 252.44 L468.94 253.19 L469.94 253.95 L470.94 254.70 L471.94 255.45 L472.94 256.20 L473.94 256.96 L474.94 257.71 L475.94 258.46 L476.94 259.22 L477.94 259.97 L478.94 260.72 L479.94 261.47 L480.94 262.21 L481.94 262.96 L482.94 263.70 L483.94 264.44 L484.94 265.18 L485.94 265.92 L486.94 266.65 L487.94 267.38 L488.94 268.10 L489.94 268.83 L490.94 269.54 L491.94 270.26 L492.94 270.97 L493.94 271.68 L494.94 272.38 L495.94 273.07 L496.94 273.77 L497.94 274.45 L498.94 275.14 L499.94 275.81 L500.94 276.48 L501.94 277.15 L502.94 277.81 L503.94 278.47 L504.94 279.11 L505.94 279.76 L506.94 280.39 L507.94 281.02 L508.94 281.65 L509.94 282.26 L510.94 282.88 L511.94 283.48 L512.94 284.08 L513.94 284.67 L514.94 285.25 L515.94 285.83 L516.93 286.40 L517.93 286.96 L518.93 287.52 L519.93 288.07 L520.93 288.61 L521.93 289.15 L522.93 289.67 L523.93 290.19 L524.93 290.71 L525.93 291.21 L526.93 291.71 L527.93 292.20 L528.93 292.69 L529.93 293.16 L530.93 293.63 L531.93 294.10 L532.93 294.55 L533.93 295.00 L534.93 295.44 L535.93 295.87 L536.93 296.30 L537.93 296.72 L538.93 297.13 L539.93 297.53 L540.93 297.93 L541.93 298.32 L542.93 298.71 L543.93 299.08 L544.93 299.45 L545.93 299.81 L546.93 300.17 L547.93 300.52 L548.93 300.86 L549.93 301.20 L550.93 301.53 L551.93 301.85 L552.93 302.17 L553.93 302.48 L554.93 302.78 L555.93 303.08 L556.93 303.37 L557.93 303.65 L558.93 303.93 L559.93 304.20 L560.93 304.47 L561.93 304.73 L562.93 304.99 L563.93 305.24 L564.93 305.48 L565.93 305.72 L566.93 305.95 L567.93 306.18 L568.93 306.40 L569.93 306.62 L570.93 306.83 L571.93 307.04 L572.93 307.24 L573.93 307.44 L574.93 307.63 L575.93 307.81 L576.93 308.00 L577.93 308.18 L578.93 308.35 L579.93 308.52 L580.93 308.68 L581.93 308.84 L582.93 309.00 L583.93 309.15 L584.93 309.30 L585.93 309.44 L586.93 309.58 L587.93 309.72 L588.93 309.85 L589.93 309.98 L590.93 310.11 L591.93 310.23 L592.93 310.35 L593.93 310.46 L594.93 310.57 L595.92 310.68 L596.92 310.79 L597.92 310.89 L598.92 310.99 L599.92 311.09 L600.92 311.18 L601.92 311.27 L602.92 311.36 L603.92 311.44 L604.92 311.53 L605.92 311.61 L606.92 311.69 L607.92 311.76 L608.92 311.83 L609.92 311.90 L610.92 311.97 L611.92 312.04 L612.92 312.10 L613.92 312.17 L614.92 312.23 L615.92 312.28 L616.92 312.34 L617.92 312.40 L618.92 312.45 L619.92 312.50 L620.92 312.55 L621.92 312.60 L622.92 312.64 L623.92 312.69 L624.92 312.73 L625.92 312.77 L626.92 312.81 L627.92 312.85 L628.92 312.89 L629.92 312.92 L630.92 312.96 L631.92 312.99 L632.92 313.02 L633.92 313.05 L634.92 313.08 L635.92 313.11 L636.92 313.14 L637.92 313.17 L638.92 313.19 L639.92 313.22 L640.92 313.24 L641.92 313.26 L642.92 313.29 L643.92 313.31 L644.92 313.33 L645.92 313.35 L646.92 313.37 L647.92 313.39 L648.92 313.40 L649.92 313.42 L650.92 313.44 L651.92 313.45 L652.92 313.47 L653.92 313.48 L654.92 313.50 L655.92 313.51 L656.92 313.52 L657.92 313.53 L658.92 313.55 L659.92 313.56 L660.92 313.57 L661.92 313.58 L662.92 313.59 L663.92 313.60 L664.92 313.61 L665.92 313.62 L666.92 313.62 L667.92 313.63 L668.92 313.64 L669.92 313.65 L670.92 313.65 L671.92 313.66 L672.92 313.67 L673.92 313.67 L674.91 313.68 L675.91 313.69 L676.91 313.69 L677.91 313.70 L678.91 313.70 L679.91 313.71 L680.91 313.71 L681.91 313.71 L682.91 313.72 L683.91 313.72 L684.91 313.73 L685.91 313.73 L686.91 313.73 L687.91 313.74 L688.91 313.74 L689.91 313.74 L690.91 313.75 L691.91 313.75 L692.91 313.75 L693.91 313.75 L694.91 313.76 L695.91 313.76 L696.91 313.76 L697.91 313.76 L698.91 313.76 L699.91 313.77 L700.91 313.77 L701.91 313.77 L702.91 313.77 L703.91 313.77 L704.91 313.77 L705.91 313.77 L706.91 313.78 L707.91 313.78 L708.91 313.78 L709.91 313.78 L710.91 313.78 L711.91 313.78 L712.91 313.78 L713.91 313.78 L714.91 313.78 L715.91 313.79 L716.91 313.79 L717.91 313.79 L718.91 313.79 L719.91 313.79 L720.91 313.79 L721.91 313.79 L722.91 313.79 L723.91 313.79 L724.91 313.79 L725.91 313.79 L726.91 313.79 L727.91 313.79 L728.91 313.79 L729.91 313.79 L730.91 313.79 L731.91 313.79 L732.91 313.79 L733.91 313.79 L734.91 313.80 L735.91 313.80 L736.91 313.80 L737.91 313.80 L738.91 313.80 L739.91 313.80 L740.91 313.80 L741.91 313.80 L742.91 313.80 L743.91 313.80 L744.91 313.80 L745.91 313.80 L746.91 313.80 L747.91 313.80 L748.91 313.80 L749.91 313.80 L750.91 313.80 L751.91 313.80 L752.91 313.80 L753.91 313.80 L754.90 313.80 L755.90 313.80 L756.90 313.80 L757.90 313.80 L758.90 313.80 L759.90 313.80 L760.90 313.80 L761.90 313.80 L762.90 313.80 L763.90 313.80 L764.90 313.80 L765.90 313.80 L766.90 313.80 L767.90 313.80 L768.90 313.80 L769.90 313.80 L770.90 313.80 L771.90 313.80 L772.90 313.80 L773.90 313.80 L774.90 313.80 L775.90 313.80 L776.90 313.80 L777.90 313.80 L778.90 313.80 L779.90 313.80 L780.90 313.80 L781.90 313.80 L782.90 313.80 L783.90 313.80 L784.90 313.80 L785.90 313.80 L786.90 313.80 L787.90 313.80 L788.90 313.80 L789.90 313.80 L790.90 313.80 L791.90 313.80 L792.90 313.80 L793.90 313.80" fill="none" stroke="#ff8000" stroke-width="3.70" stroke-linejoin="round"/>
<path d="M0.00 417.80 L1.00 417.80 L2.00 417.80 L3.00 417.80 L4.00 417.80 L5.00 417.80 L6.00 417.80 L7.00 417.80 L8.01 417.80 L9.01 417.80 L10.01 417.80 L11.01 417.80 L12.01 417.80 L13.01 417.80 L14.01 417.80 L15.01 417.80 L16.01 417.80 L17.01 417.80 L18.01 417.80 L19.01 417.80 L20.01 417.80 L21.01 417.80 L22.01 417.80 L23.01 417.80 L24.02 417.80 L25.02 417.80 L26.02 417.80 L27.02 417.80 L28.02 417.80 L29.02 417.80 L30.02 417.80 L31.02 417.80 L32.02 417.80 L33.02 417.80 L34.02 417.80 L35.02 417.80 L36.02 417.80 L37.02 417.80 L38.02 417.80 L39.02 417.80 L40.03 417.80 L41.03 417.80 L42.03 417.80 L43.03 417.80 L44.03 417.80 L45.03 417.80 L46.03 417.80 L47.03 417.80 L48.03 417.80 L49.03 417.80 L50.03 417.80 L51.03 417.80 L52.03 417.80 L53.03 417.80 L54.03 417.80 L55.03 417.80 L56.04 417.80 L57.04 417.80 L58.04 417.80 L59.04 417.80 L60.04 417.79 L61.04 417.79 L62.04 417.79 L63.04 417.79 L64.04 417.79 L65.04 417.79 L66.04 417.79 L67.04 417.79 L68.04 417.79 L69.04 417.79 L70.04 417.79 L71.04 417.79 L72.05 417.79 L73.05 417.79 L74.05 417.79 L75.05 417.79 L76.05 417.79 L77.05 417.79 L78.05 417.79 L79.05 417.79 L80.05 417.78 L81.05 417.78 L82.05 417.78 L83.05 417.78 L84.05 417.78 L85.05 417.78 L86.05 417.78 L87.05 417.78 L88.06 417.78 L89.06 417.77 L90.06 417.77 L91.06 417.77 L92.06 417.77 L93.06 417.77 L94.06 417.77 L95.06 417.76 L96.06 417.76 L97.06 417.76 L98.06 417.76 L99.06 417.76 L100.06 417.75 L101.06 417.75 L102.06 417.75 L103.06 417.75 L104.07 417.74 L105.07 417.74 L106.07 417.74 L107.07 417.73 L108.07 417.73 L109.07 417.73 L110.07 417.72 L111.07 417.72 L112.07 417.72 L113.07 417.71 L114.07 417.71 L115.07 417.70 L116.07 417.70 L117.07 417.69 L118.07 417.69 L119.07 417.68 L120.08 417.68 L121.08 417.67 L122.08 417.66 L123.08 417.66 L124.08 417.65 L125.08 417.64 L126.08 417.64 L127.08 417.63 L128.08 417.62 L129.08 417.61 L130.08 417.60 L131.08 417.59 L132.08 417.58 L133.08 417.57 L134.08 417.56 L135.09 417.55 L136.09 417.54 L137.09 417.53 L138.09 417.52 L139.09 417.50 L140.09 417.49 L141.09 417.47 L142.09 417.46 L143.09 417.44 L144.09 417.43 L145.09 417.41 L146.09 417.39 L147.09 417.38 L148.09 417.36 L149.09 417.34 L150.09 417.32 L151.10 417.30 L152.10 417.28 L153.10 417.25 L154.10 417.23 L155.10 417.21 L156.10 417.18 L157.10 417.15 L158.10 417.13 L159.10 417.10 L160.10 417.07 L161.10 417.04 L162.10 417.01 L163.10 416.97 L164.10 416.94 L165.10 416.90 L166.10 416.87 L167.11 416.83 L168.11 416.79 L169.11 416.75 L170.11 416.71 L171.11 416.66 L172.11 416.62 L173.11 416.57 L174.11 416.52 L175.11 416.47 L176.11 416.42 L177.11 416.37 L178.11 416.31 L179.11 416.25 L180.11 416.19 L181.11 416.13 L182.11 416.07 L183.12 416.00 L184.12 415.94 L185.12 415.87 L186.12 415.79 L187.12 415.72 L188.12 415.64 L189.12 415.56 L190.12 415.48 L191.12 415.40 L192.12 415.31 L193.12 415.22 L194.12 415.13 L195.12 415.03 L196.12 414.94 L197.12 414.83 L198.12 414.73 L199.13 414.62 L200.13 414.51 L201.13 414.40 L202.13 414.28 L203.13 414.16 L204.13 414.04 L205.13 413.91 L206.13 413.78 L207.13 413.64 L208.13 413.51 L209.13 413.36 L210.13 413.22 L211.13 413.07 L212.13 412.91 L213.13 412.75 L214.13 412.59 L215.14 412.42 L216.14 412.25 L217.14 412.08 L218.14 411.89 L219.14 411.71 L220.14 411.52 L221.14 411.32 L222.14 411.12 L223.14 410.92 L224.14 410.71 L225.14 410.50 L226.14 410.28 L227.14 410.05 L228.14 409.82 L229.14 409.58 L230.14 409.34 L231.15 409.09 L232.15 408.84 L233.15 408.58 L234.15 408.32 L235.15 408.05 L236.15 407.77 L237.15 407.49 L238.15 407.20 L239.15 406.91 L240.15 406.60 L241.15 406.30 L242.15 405.98 L243.15 405.66 L244.15 405.34 L245.15 405.00 L246.15 404.66 L247.16 404.32 L248.16 403.96 L249.16 403.60 L250.16 403.24 L251.16 402.86 L252.16 402.48 L253.16 402.09 L254.16 401.70 L255.16 401.30 L256.16 400.89 L257.16 400.47 L258.16 400.05 L259.16 399.62 L260.16 399.18 L261.16 398.73 L262.16 398.28 L263.17 397.82 L264.17 397.35 L265.17 396.88 L266.17 396.40 L267.17 395.91 L268.17 395.41 L269.17 394.91 L270.17 394.40 L271.17 393.88 L272.17 393.35 L273.17 392.82 L274.17 392.28 L275.17 391.74 L276.17 391.18 L277.17 390.62 L278.18 390.05 L279.18 389.48 L280.18 388.90 L281.18 388.31 L282.18 387.71 L283.18 387.11 L284.18 386.50 L285.18 385.89 L286.18 385.26 L287.18 384.63 L288.18 384.00 L289.18 383.36 L290.18 382.71 L291.18 382.06 L292.18 381.40 L293.18 380.74 L294.19 380.07 L295.19 379.39 L296.19 378.71 L297.19 378.03 L298.19 377.33 L299.19 376.64 L300.19 375.94 L301.19 375.23 L302.19 374.52 L303.19 373.81 L304.19 373.09 L305.19 372.37 L306.19 371.65 L307.19 370.92 L308.19 370.19 L309.19 369.45 L310.20 368.71 L311.20 367.97 L312.20 367.23 L313.20 366.48 L314.20 365.74 L315.20 364.99 L316.20 364.24 L317.20 363.49 L318.20 362.73 L319.20 361.98 L320.20 361.23 L321.20 360.47 L322.20 359.72 L323.20 358.97 L324.20 358.21 L325.20 357.46 L326.21 356.71 L327.21 355.96 L328.21 355.21 L329.21 354.46 L330.21 353.72 L331.21 352.98 L332.21 352.24 L333.21 351.50 L334.21 350.77 L335.21 350.04 L336.21 349.32 L337.21 348.60 L338.21 347.88 L339.21 347.17 L340.21 346.46 L341.21 345.76 L342.22 345.06 L343.22 344.38 L344.22 343.69 L345.22 343.02 L346.22 342.35 L347.22 341.68 L348.22 341.03 L349.22 340.38 L350.22 339.74 L351.22 339.11 L352.22 338.49 L353.22 337.88 L354.22 337.27 L355.22 336.68 L356.22 336.09 L357.22 335.52 L358.23 334.95 L359.23 334.40 L360.23 333.86 L361.23 333.33 L362.23 332.81 L363.23 332.30 L364.23 331.80 L365.23 331.31 L366.23 330.84 L367.23 330.38 L368.23 329.93 L369.23 329.50 L370.23 329.08 L371.23 328.67 L372.23 328.28 L373.23 327.89 L374.24 327.53 L375.24 327.18 L376.24 326.84 L377.24 326.52 L378.24 326.21 L379.24 325.91 L380.24 325.63 L381.24 325.37 L382.24 325.12 L383.24 324.89 L384.24 324.67 L385.24 324.47 L386.24 324.28 L387.24 324.11 L388.24 323.96 L389.24 323.82 L390.25 323.70 L391.25 323.59 L392.25 323.50 L393.25 323.43 L394.25 323.37 L395.25 323.33 L396.25 323.31 L397.25 323.30" fill="none" stroke="#000" stroke-width="3.70" stroke-dasharray="13.3 5.2" stroke-dashoffset="5"/>
<path d="M700.00 417.77 L701.00 417.77 L702.00 417.77 L703.00 417.77 L704.00 417.77 L704.99 417.77 L705.99 417.78 L706.99 417.78 L707.99 417.78 L708.99 417.78 L709.99 417.78 L710.99 417.78 L711.99 417.78 L712.99 417.78 L713.99 417.78 L714.98 417.78 L715.98 417.79 L716.98 417.79 L717.98 417.79 L718.98 417.79 L719.98 417.79 L720.98 417.79 L721.98 417.79 L722.98 417.79 L723.97 417.79 L724.97 417.79 L725.97 417.79 L726.97 417.79 L727.97 417.79 L728.97 417.79 L729.97 417.79 L730.97 417.79 L731.97 417.79 L732.96 417.79 L733.96 417.79 L734.96 417.80 L735.96 417.80 L736.96 417.80 L737.96 417.80 L738.96 417.80 L739.96 417.80 L740.96 417.80 L741.96 417.80 L742.95 417.80 L743.95 417.80 L744.95 417.80 L745.95 417.80 L746.95 417.80 L747.95 417.80 L748.95 417.80 L749.95 417.80 L750.95 417.80 L751.94 417.80 L752.94 417.80 L753.94 417.80 L754.94 417.80 L755.94 417.80 L756.94 417.80 L757.94 417.80 L758.94 417.80 L759.94 417.80 L760.94 417.80 L761.93 417.80 L762.93 417.80 L763.93 417.80 L764.93 417.80 L765.93 417.80 L766.93 417.80 L767.93 417.80 L768.93 417.80 L769.93 417.80 L770.92 417.80 L771.92 417.80 L772.92 417.80 L773.92 417.80 L774.92 417.80 L775.92 417.80 L776.92 417.80 L777.92 417.80 L778.92 417.80 L779.91 417.80 L780.91 417.80 L781.91 417.80 L782.91 417.80 L783.91 417.80 L784.91 417.80 L785.91 417.80 L786.91 417.80 L787.91 417.80 L788.91 417.80 L789.90 417.80 L790.90 417.80 L791.90 417.80 L792.90 417.80 L793.90 417.80" fill="none" stroke="#000" stroke-width="3.50" stroke-dasharray="13.3 5.2" stroke-dashoffset="14.5"/>
<path d="M0.00 417.80 L1.00 417.80 L2.00 417.80 L3.00 417.80 L4.00 417.80 L5.00 417.80 L6.00 417.80 L7.00 417.80 L8.00 417.80 L9.00 417.80 L10.00 417.80 L11.00 417.80 L12.00 417.80 L13.00 417.80 L14.00 417.80 L15.00 417.80 L16.00 417.80 L17.00 417.80 L18.00 417.80 L19.00 417.80 L20.00 417.80 L21.00 417.80 L22.00 417.80 L23.00 417.80 L24.00 417.80 L25.00 417.80 L26.00 417.80 L27.00 417.80 L28.00 417.80 L29.00 417.80 L30.00 417.80 L31.00 417.80 L32.00 417.80 L33.00 417.80 L34.00 417.80 L35.00 417.80 L36.00 417.80 L37.00 417.80 L38.00 417.80 L39.00 417.80 L39.99 417.80 L40.99 417.80 L41.99 417.80 L42.99 417.80 L43.99 417.80 L44.99 417.80 L45.99 417.80 L46.99 417.80 L47.99 417.80 L48.99 417.80 L49.99 417.80 L50.99 417.80 L51.99 417.80 L52.99 417.80 L53.99 417.80 L54.99 417.80 L55.99 417.80 L56.99 417.80 L57.99 417.80 L58.99 417.80 L59.99 417.80 L60.99 417.80 L61.99 417.80 L62.99 417.80 L63.99 417.80 L64.99 417.80 L65.99 417.80 L66.99 417.80 L67.99 417.80 L68.99 417.80 L69.99 417.80 L70.99 417.80 L71.99 417.80 L72.99 417.80 L73.99 417.80 L74.99 417.80 L75.99 417.80 L76.99 417.80 L77.99 417.80 L78.99 417.80 L79.99 417.80 L80.99 417.80 L81.99 417.80 L82.99 417.80 L83.99 417.80 L84.99 417.80 L85.99 417.80 L86.99 417.80 L87.99 417.80 L88.99 417.80 L89.99 417.80 L90.99 417.80 L91.99 417.80 L92.99 417.80 L93.99 417.80 L94.99 417.80 L95.99 417.80 L96.99 417.80 L97.99 417.80 L98.99 417.80 L99.99 417.80 L100.99 417.80 L101.99 417.80 L102.99 417.80 L103.99 417.80 L104.99 417.80 L105.99 417.80 L106.99 417.80 L107.99 417.80 L108.99 417.80 L109.99 417.80 L110.99 417.80 L111.99 417.80 L112.99 417.80 L113.99 417.80 L114.99 417.80 L115.99 417.79 L116.99 417.79 L117.99 417.79 L118.99 417.79 L119.98 417.79 L120.98 417.79 L121.98 417.79 L122.98 417.79 L123.98 417.79 L124.98 417.79 L125.98 417.79 L126.98 417.79 L127.98 417.79 L128.98 417.79 L129.98 417.79 L130.98 417.79 L131.98 417.79 L132.98 417.78 L133.98 417.78 L134.98 417.78 L135.98 417.78 L136.98 417.78 L137.98 417.78 L138.98 417.78 L139.98 417.78 L140.98 417.77 L141.98 417.77 L142.98 417.77 L143.98 417.77 L144.98 417.77 L145.98 417.77 L146.98 417.76 L147.98 417.76 L148.98 417.76 L149.98 417.76 L150.98 417.75 L151.98 417.75 L152.98 417.75 L153.98 417.74 L154.98 417.74 L155.98 417.74 L156.98 417.73 L157.98 417.73 L158.98 417.73 L159.98 417.72 L160.98 417.72 L161.98 417.71 L162.98 417.71 L163.98 417.70 L164.98 417.70 L165.98 417.69 L166.98 417.68 L167.98 417.68 L168.98 417.67 L169.98 417.66 L170.98 417.66 L171.98 417.65 L172.98 417.64 L173.98 417.63 L174.98 417.62 L175.98 417.61 L176.98 417.60 L177.98 417.59 L178.98 417.58 L179.98 417.56 L180.98 417.55 L181.98 417.54 L182.98 417.52 L183.98 417.51 L184.98 417.49 L185.98 417.48 L186.98 417.46 L187.98 417.44 L188.98 417.43 L189.98 417.41 L190.98 417.39 L191.98 417.36 L192.98 417.34 L193.98 417.32 L194.98 417.29 L195.98 417.27 L196.98 417.24 L197.98 417.21 L198.97 417.18 L199.97 417.15 L200.97 417.12 L201.97 417.09 L202.97 417.05 L203.97 417.02 L204.97 416.98 L205.97 416.94 L206.97 416.90 L207.97 416.85 L208.97 416.81 L209.97 416.76 L210.97 416.71 L211.97 416.66 L212.97 416.61 L213.97 416.56 L214.97 416.50 L215.97 416.44 L216.97 416.38 L217.97 416.31 L218.97 416.24 L219.97 416.17 L220.97 416.10 L221.97 416.03 L222.97 415.95 L223.97 415.87 L224.97 415.78 L225.97 415.69 L226.97 415.60 L227.97 415.51 L228.97 415.41 L229.97 415.31 L230.97 415.20 L231.97 415.09 L232.97 414.98 L233.97 414.86 L234.97 414.74 L235.97 414.62 L236.97 414.49 L237.97 414.35 L238.97 414.21 L239.97 414.07 L240.97 413.92 L241.97 413.76 L242.97 413.60 L243.97 413.44 L244.97 413.27 L245.97 413.09 L246.97 412.91 L247.97 412.72 L248.97 412.53 L249.97 412.33 L250.97 412.13 L251.97 411.92 L252.97 411.70 L253.97 411.47 L254.97 411.24 L255.97 411.00 L256.97 410.76 L257.97 410.50 L258.97 410.24 L259.97 409.97 L260.97 409.70 L261.97 409.42 L262.97 409.12 L263.97 408.83 L264.97 408.52 L265.97 408.20 L266.97 407.88 L267.97 407.55 L268.97 407.20 L269.97 406.85 L270.97 406.50 L271.97 406.13 L272.97 405.75 L273.97 405.36 L274.97 404.97 L275.97 404.56 L276.97 404.15 L277.96 403.72 L278.96 403.29 L279.96 402.84 L280.96 402.39 L281.96 401.92 L282.96 401.45 L283.96 400.96 L284.96 400.47 L285.96 399.96 L286.96 399.44 L287.96 398.92 L288.96 398.38 L289.96 397.83 L290.96 397.27 L291.96 396.70 L292.96 396.12 L293.96 395.53 L294.96 394.93 L295.96 394.32 L296.96 393.70 L297.96 393.06 L298.96 392.42 L299.96 391.76 L300.96 391.10 L301.96 390.42 L302.96 389.74 L303.96 389.04 L304.96 388.33 L305.96 387.62 L306.96 386.89 L307.96 386.15 L308.96 385.41 L309.96 384.65 L310.96 383.89 L311.96 383.11 L312.96 382.33 L313.96 381.53 L314.96 380.73 L315.96 379.92 L316.96 379.10 L317.96 378.27 L318.96 377.44 L319.96 376.60 L320.96 375.75 L321.96 374.89 L322.96 374.03 L323.96 373.16 L324.96 372.28 L325.96 371.40 L326.96 370.51 L327.96 369.61 L328.96 368.72 L329.96 367.81 L330.96 366.91 L331.96 366.00 L332.96 365.08 L333.96 364.17 L334.96 363.25 L335.96 362.32 L336.96 361.40 L337.96 360.48 L338.96 359.55 L339.96 358.63 L340.96 357.70 L341.96 356.78 L342.96 355.86 L343.96 354.94 L344.96 354.02 L345.96 353.10 L346.96 352.19 L347.96 351.28 L348.96 350.38 L349.96 349.48 L350.96 348.59 L351.96 347.70 L352.96 346.82 L353.96 345.94 L354.96 345.08 L355.96 344.22 L356.96 343.37 L357.95 342.53 L358.95 341.71 L359.95 340.89 L360.95 340.08 L361.95 339.29 L362.95 338.50 L363.95 337.73 L364.95 336.98 L365.95 336.24 L366.95 335.51 L367.95 334.80 L368.95 334.11 L369.95 333.43 L370.95 332.77 L371.95 332.12 L372.95 331.50 L373.95 330.89 L374.95 330.30 L375.95 329.73 L376.95 329.19 L377.95 328.66 L378.95 328.15 L379.95 327.67 L380.95 327.21 L381.95 326.77 L382.95 326.36 L383.95 325.97 L384.95 325.60 L385.95 325.26 L386.95 324.95 L387.95 324.66 L388.95 324.39 L389.95 324.16 L390.95 323.95 L391.95 323.76 L392.95 323.61 L393.95 323.49 L394.95 323.39 L395.95 323.33 L396.95 323.30 L397.95 323.30 L398.95 323.32 L399.95 323.36 L400.95 323.41 L401.95 323.48 L402.95 323.56 L403.95 323.67 L404.95 323.78 L405.95 323.92 L406.95 324.07 L407.95 324.23 L408.95 324.41 L409.95 324.61 L410.95 324.82 L411.95 325.05 L412.95 325.29 L413.95 325.55 L414.95 325.82 L415.95 326.11 L416.95 326.42 L417.95 326.73 L418.95 327.07 L419.95 327.42 L420.95 327.78 L421.95 328.15 L422.95 328.54 L423.95 328.95 L424.95 329.36 L425.95 329.79 L426.95 330.23 L427.95 330.69 L428.95 331.16 L429.95 331.64 L430.95 332.13 L431.95 332.64 L432.95 333.15 L433.95 333.68 L434.95 334.22 L435.95 334.77 L436.94 335.33 L437.94 335.90 L438.94 336.48 L439.94 337.07 L440.94 337.67 L441.94 338.28 L442.94 338.90 L443.94 339.53 L444.94 340.17 L445.94 340.81 L446.94 341.46 L447.94 342.12 L448.94 342.79 L449.94 343.46 L450.94 344.14 L451.94 344.83 L452.94 345.52 L453.94 346.22 L454.94 346.92 L455.94 347.63 L456.94 348.35 L457.94 349.07 L458.94 349.79 L459.94 350.52 L460.94 351.25 L461.94 351.98 L462.94 352.72 L463.94 353.46 L464.94 354.20 L465.94 354.95 L466.94 355.69 L467.94 356.44 L468.94 357.19 L469.94 357.95 L470.94 358.70 L471.94 359.45 L472.94 360.20 L473.94 360.96 L474.94 361.71 L475.94 362.46 L476.94 363.22 L477.94 363.97 L478.94 364.72 L479.94 365.47 L480.94 366.21 L481.94 366.96 L482.94 367.70 L483.94 368.44 L484.94 369.18 L485.94 369.92 L486.94 370.65 L487.94 371.38 L488.94 372.10 L489.94 372.83 L490.94 373.54 L491.94 374.26 L492.94 374.97 L493.94 375.68 L494.94 376.38 L495.94 377.07 L496.94 377.77 L497.94 378.45 L498.94 379.14 L499.94 379.81 L500.94 380.48 L501.94 381.15 L502.94 381.81 L503.94 382.47 L504.94 383.11 L505.94 383.76 L506.94 384.39 L507.94 385.02 L508.94 385.65 L509.94 386.26 L510.94 386.88 L511.94 387.48 L512.94 388.08 L513.94 388.67 L514.94 389.25 L515.94 389.83 L516.93 390.40 L517.93 390.96 L518.93 391.52 L519.93 392.07 L520.93 392.61 L521.93 393.15 L522.93 393.67 L523.93 394.19 L524.93 394.71 L525.93 395.21 L526.93 395.71 L527.93 396.20 L528.93 396.69 L529.93 397.16 L530.93 397.63 L531.93 398.10 L532.93 398.55 L533.93 399.00 L534.93 399.44 L535.93 399.87 L536.93 400.30 L537.93 400.72 L538.93 401.13 L539.93 401.53 L540.93 401.93 L541.93 402.32 L542.93 402.71 L543.93 403.08 L544.93 403.45 L545.93 403.81 L546.93 404.17 L547.93 404.52 L548.93 404.86 L549.93 405.20 L550.93 405.53 L551.93 405.85 L552.93 406.17 L553.93 406.48 L554.93 406.78 L555.93 407.08 L556.93 407.37 L557.93 407.65 L558.93 407.93 L559.93 408.20 L560.93 408.47 L561.93 408.73 L562.93 408.99 L563.93 409.24 L564.93 409.48 L565.93 409.72 L566.93 409.95 L567.93 410.18 L568.93 410.40 L569.93 410.62 L570.93 410.83 L571.93 411.04 L572.93 411.24 L573.93 411.44 L574.93 411.63 L575.93 411.81 L576.93 412.00 L577.93 412.18 L578.93 412.35 L579.93 412.52 L580.93 412.68 L581.93 412.84 L582.93 413.00 L583.93 413.15 L584.93 413.30 L585.93 413.44 L586.93 413.58 L587.93 413.72 L588.93 413.85 L589.93 413.98 L590.93 414.11 L591.93 414.23 L592.93 414.35 L593.93 414.46 L594.93 414.57 L595.92 414.68 L596.92 414.79 L597.92 414.89 L598.92 414.99 L599.92 415.09 L600.92 415.18 L601.92 415.27 L602.92 415.36 L603.92 415.44 L604.92 415.53 L605.92 415.61 L606.92 415.69 L607.92 415.76 L608.92 415.83 L609.92 415.90 L610.92 415.97 L611.92 416.04 L612.92 416.10 L613.92 416.17 L614.92 416.23 L615.92 416.28 L616.92 416.34 L617.92 416.40 L618.92 416.45 L619.92 416.50 L620.92 416.55 L621.92 416.60 L622.92 416.64 L623.92 416.69 L624.92 416.73 L625.92 416.77 L626.92 416.81 L627.92 416.85 L628.92 416.89 L629.92 416.92 L630.92 416.96 L631.92 416.99 L632.92 417.02 L633.92 417.05 L634.92 417.08 L635.92 417.11 L636.92 417.14 L637.92 417.17 L638.92 417.19 L639.92 417.22 L640.92 417.24 L641.92 417.26 L642.92 417.29 L643.92 417.31 L644.92 417.33 L645.92 417.35 L646.92 417.37 L647.92 417.39 L648.92 417.40 L649.92 417.42 L650.92 417.44 L651.92 417.45 L652.92 417.47 L653.92 417.48 L654.92 417.50 L655.92 417.51 L656.92 417.52 L657.92 417.53 L658.92 417.55 L659.92 417.56 L660.92 417.57 L661.92 417.58 L662.92 417.59 L663.92 417.60 L664.92 417.61 L665.92 417.62 L666.92 417.62 L667.92 417.63 L668.92 417.64 L669.92 417.65 L670.92 417.65 L671.92 417.66 L672.92 417.67 L673.92 417.67 L674.91 417.68 L675.91 417.69 L676.91 417.69 L677.91 417.70 L678.91 417.70 L679.91 417.71 L680.91 417.71 L681.91 417.71 L682.91 417.72 L683.91 417.72 L684.91 417.73 L685.91 417.73 L686.91 417.73 L687.91 417.74 L688.91 417.74 L689.91 417.74 L690.91 417.75 L691.91 417.75 L692.91 417.75 L693.91 417.75 L694.91 417.76 L695.91 417.76 L696.91 417.76 L697.91 417.76 L698.91 417.76 L699.91 417.77 L700.91 417.77 L701.91 417.77 L702.91 417.77 L703.91 417.77 L704.91 417.77 L705.91 417.77 L706.91 417.78 L707.91 417.78 L708.91 417.78 L709.91 417.78 L710.91 417.78 L711.91 417.78 L712.91 417.78 L713.91 417.78 L714.91 417.78 L715.91 417.79 L716.91 417.79 L717.91 417.79 L718.91 417.79 L719.91 417.79 L720.91 417.79 L721.91 417.79 L722.91 417.79 L723.91 417.79 L724.91 417.79 L725.91 417.79 L726.91 417.79 L727.91 417.79 L728.91 417.79 L729.91 417.79 L730.91 417.79 L731.91 417.79 L732.91 417.79 L733.91 417.79 L734.91 417.80 L735.91 417.80 L736.91 417.80 L737.91 417.80 L738.91 417.80 L739.91 417.80 L740.91 417.80 L741.91 417.80 L742.91 417.80 L743.91 417.80 L744.91 417.80 L745.91 417.80 L746.91 417.80 L747.91 417.80 L748.91 417.80 L749.91 417.80 L750.91 417.80 L751.91 417.80 L752.91 417.80 L753.91 417.80 L754.90 417.80 L755.90 417.80 L756.90 417.80 L757.90 417.80 L758.90 417.80 L759.90 417.80 L760.90 417.80 L761.90 417.80 L762.90 417.80 L763.90 417.80 L764.90 417.80 L765.90 417.80 L766.90 417.80 L767.90 417.80 L768.90 417.80 L769.90 417.80 L770.90 417.80 L771.90 417.80 L772.90 417.80 L773.90 417.80 L774.90 417.80 L775.90 417.80 L776.90 417.80 L777.90 417.80 L778.90 417.80 L779.90 417.80 L780.90 417.80 L781.90 417.80 L782.90 417.80 L783.90 417.80 L784.90 417.80 L785.90 417.80 L786.90 417.80 L787.90 417.80 L788.90 417.80 L789.90 417.80 L790.90 417.80 L791.90 417.80 L792.90 417.80 L793.90 417.80" fill="none" stroke="#ff0000" stroke-width="3.70" stroke-linejoin="round"/>
<line x1="0.0" y1="105.70" x2="793.9" y2="105.70" stroke="#000" stroke-width="1.1" stroke-opacity="0.88"/>
<line x1="0.0" y1="209.70" x2="793.9" y2="209.70" stroke="#000" stroke-width="1.1" stroke-opacity="0.88"/>
<line x1="0.0" y1="313.70" x2="793.9" y2="313.70" stroke="#000" stroke-width="1.1" stroke-opacity="0.88"/>
<line x1="0.0" y1="417.70" x2="793.9" y2="417.70" stroke="#000" stroke-width="1.1" stroke-opacity="0.88"/>
<line x1="720.6" y1="62.6" x2="719.9" y2="105.0" stroke="#a3a3a3" stroke-width="2.5"/>
<line x1="739.6" y1="166.6" x2="739.3" y2="209.0" stroke="#a3a3a3" stroke-width="2.5"/>
<line x1="758.3" y1="270.6" x2="758.3" y2="313.0" stroke="#a3a3a3" stroke-width="2.5"/>
<line x1="777.4" y1="374.6" x2="777.4" y2="417.0" stroke="#a3a3a3" stroke-width="2.5"/>
<line x1="1" y1="465.0" x2="793.5" y2="465.0" stroke="#808080" stroke-width="1"/>
<line x1="16.95" y1="465.0" x2="16.95" y2="459.5" stroke="#808080" stroke-width="1"/>
<line x1="54.98" y1="465.0" x2="54.98" y2="459.5" stroke="#808080" stroke-width="1"/>
<line x1="93.01" y1="465.0" x2="93.01" y2="455.7" stroke="#808080" stroke-width="1"/>
<line x1="131.04" y1="465.0" x2="131.04" y2="459.5" stroke="#808080" stroke-width="1"/>
<line x1="169.07" y1="465.0" x2="169.07" y2="459.5" stroke="#808080" stroke-width="1"/>
<line x1="207.10" y1="465.0" x2="207.10" y2="459.5" stroke="#808080" stroke-width="1"/>
<line x1="245.13" y1="465.0" x2="245.13" y2="455.7" stroke="#808080" stroke-width="1"/>
<line x1="283.16" y1="465.0" x2="283.16" y2="459.5" stroke="#808080" stroke-width="1"/>
<line x1="321.19" y1="465.0" x2="321.19" y2="459.5" stroke="#808080" stroke-width="1"/>
<line x1="359.22" y1="465.0" x2="359.22" y2="459.5" stroke="#808080" stroke-width="1"/>
<line x1="397.25" y1="465.0" x2="397.25" y2="455.7" stroke="#808080" stroke-width="1"/>
<line x1="435.28" y1="465.0" x2="435.28" y2="459.5" stroke="#808080" stroke-width="1"/>
<line x1="473.31" y1="465.0" x2="473.31" y2="459.5" stroke="#808080" stroke-width="1"/>
<line x1="511.34" y1="465.0" x2="511.34" y2="459.5" stroke="#808080" stroke-width="1"/>
<line x1="549.37" y1="465.0" x2="549.37" y2="455.7" stroke="#808080" stroke-width="1"/>
<line x1="587.40" y1="465.0" x2="587.40" y2="459.5" stroke="#808080" stroke-width="1"/>
<line x1="625.43" y1="465.0" x2="625.43" y2="459.5" stroke="#808080" stroke-width="1"/>
<line x1="663.46" y1="465.0" x2="663.46" y2="459.5" stroke="#808080" stroke-width="1"/>
<line x1="701.49" y1="465.0" x2="701.49" y2="455.7" stroke="#808080" stroke-width="1"/>
<line x1="739.52" y1="465.0" x2="739.52" y2="459.5" stroke="#808080" stroke-width="1"/>
<line x1="777.55" y1="465.0" x2="777.55" y2="459.5" stroke="#808080" stroke-width="1"/>
<text x="92.7" y="492.5" font-family="Liberation Sans, sans-serif" font-size="23" fill="#666" text-anchor="middle"><tspan dy="1.2">−</tspan><tspan dy="-1.2">4</tspan></text>
<text x="244.8" y="492.5" font-family="Liberation Sans, sans-serif" font-size="23" fill="#666" text-anchor="middle"><tspan dy="1.2">−</tspan><tspan dy="-1.2">2</tspan></text>
<text x="396.9" y="492.5" font-family="Liberation Sans, sans-serif" font-size="23" fill="#666" text-anchor="middle">0</text>
<text x="549.1" y="492.5" font-family="Liberation Sans, sans-serif" font-size="23" fill="#666" text-anchor="middle">2</text>
<text x="701.2" y="492.5" font-family="Liberation Sans, sans-serif" font-size="23" fill="#666" text-anchor="middle">4</text>
<text transform="translate(720.1 55.0) scale(0.972 1)" font-family="Liberation Sans, sans-serif" font-size="23" fill="#000" stroke="#000" stroke-width="0.3" text-anchor="middle">m<tspan dy="1.2">=</tspan><tspan dy="-1.2">4</tspan></text>
<text transform="translate(739.0 159.0) scale(0.972 1)" font-family="Liberation Sans, sans-serif" font-size="23" fill="#000" stroke="#000" stroke-width="0.3" text-anchor="middle">m<tspan dy="1.2">=</tspan><tspan dy="-1.2">3</tspan></text>
<text transform="translate(757.8 263.0) scale(0.972 1)" font-family="Liberation Sans, sans-serif" font-size="23" fill="#000" stroke="#000" stroke-width="0.3" text-anchor="middle">m<tspan dy="1.2">=</tspan><tspan dy="-1.2">2</tspan></text>
<text transform="translate(751.25 367.0) scale(0.972 1)" font-family="Liberation Sans, sans-serif" font-size="23" fill="#000" stroke="#000" stroke-width="0.3" text-anchor="start">m<tspan dy="1.2">=</tspan></text>
<path d="M792.0 349.9 L790.4 349.9 C789.7 351.3 787.6 353.1 785.1 354.3 L785.1 356.3 C786.6 355.8 788.6 354.6 789.75 353.5 L789.75 366.6 L792.0 366.6 Z" fill="#000"/>
<g transform="translate(800 448)">
<path d="M14.0 10.1 C15.2 9.1 16.6 8.3 18.1 8.2 C19.8 8.2 20.6 9.6 21.1 11.8 L22.8 20.4 C23.1 22.0 23.4 22.9 24.0 22.9 C24.6 22.9 25.4 21.7 26.0 20.2 L26.6 20.5 C25.7 22.8 24.4 24.8 22.6 24.8 C21.0 24.8 20.3 23.5 19.9 21.5 L18.1 12.5 C17.8 11.0 17.5 9.9 16.6 9.9 C15.8 9.9 15.1 10.3 14.3 10.8 Z" fill="#000"/>
<path d="M25.0 9.4 C23.6 9.2 22.5 10.6 21.3 12.9 C20.1 15.3 18.7 18.0 17.1 20.3 C15.9 22.0 14.7 23.2 13.3 23.3" fill="none" stroke="#000" stroke-width="1.25" stroke-linecap="round"/>
<ellipse cx="25.7" cy="9.9" rx="1.7" ry="1.45" fill="#000"/>
<ellipse cx="12.4" cy="22.8" rx="1.7" ry="1.5" fill="#000"/>
</g>
</svg>
</body></html>
